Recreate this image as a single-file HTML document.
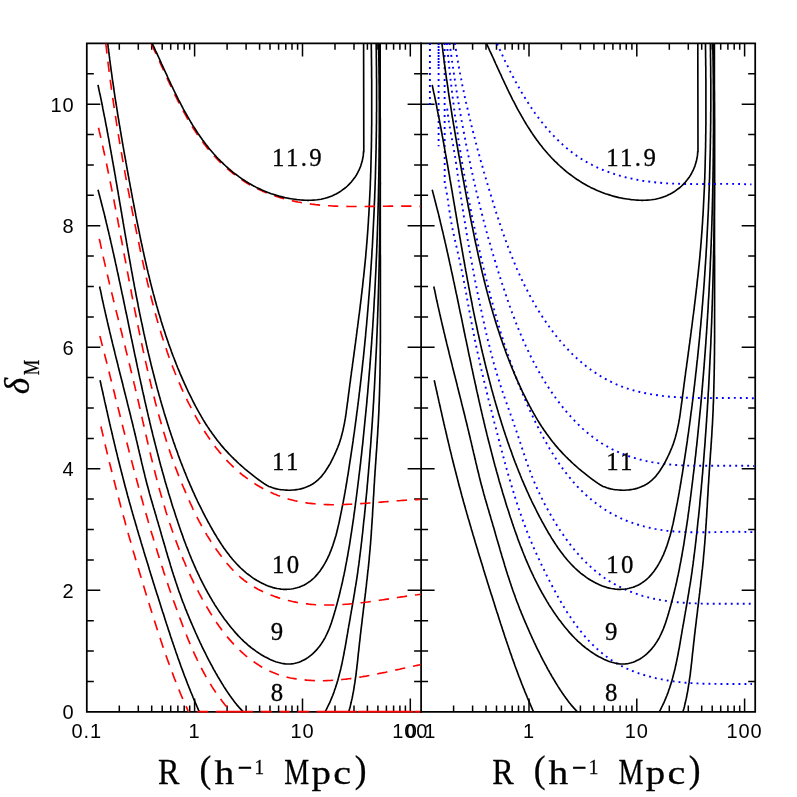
<!DOCTYPE html>
<html><head><meta charset="utf-8"><title>delta_M vs R</title>
<style>html,body{margin:0;padding:0;background:#fff}svg{display:block;will-change:transform}</style></head>
<body><svg width="797" height="797" viewBox="0 0 797 797">
<rect width="797" height="797" fill="#fff"/>
<g fill="none" stroke="#000" stroke-width="1.75" stroke-linecap="square">
<path d="M86.8 43.4H755.2V711.8H86.8Z"/>
<path d="M421.1 43.4V711.8"/>
</g>
<path d="M119.3 711.8v-6.3M119.3 43.4v6.3M138.3 711.8v-6.3M138.3 43.4v6.3M151.7 711.8v-6.3M151.7 43.4v6.3M162.2 711.8v-6.3M162.2 43.4v6.3M170.7 711.8v-6.3M170.7 43.4v6.3M177.9 711.8v-6.3M177.9 43.4v6.3M184.2 711.8v-6.3M184.2 43.4v6.3M189.7 711.8v-6.3M189.7 43.4v6.3M194.6 711.8v-13.2M194.6 43.4v13.2M227.1 711.8v-6.3M227.1 43.4v6.3M246.1 711.8v-6.3M246.1 43.4v6.3M259.6 711.8v-6.3M259.6 43.4v6.3M270.0 711.8v-6.3M270.0 43.4v6.3M278.6 711.8v-6.3M278.6 43.4v6.3M285.8 711.8v-6.3M285.8 43.4v6.3M292.0 711.8v-6.3M292.0 43.4v6.3M297.6 711.8v-6.3M297.6 43.4v6.3M302.5 711.8v-13.2M302.5 43.4v13.2M335.0 711.8v-6.3M335.0 43.4v6.3M354.0 711.8v-6.3M354.0 43.4v6.3M367.4 711.8v-6.3M367.4 43.4v6.3M377.9 711.8v-6.3M377.9 43.4v6.3M386.4 711.8v-6.3M386.4 43.4v6.3M393.6 711.8v-6.3M393.6 43.4v6.3M399.9 711.8v-6.3M399.9 43.4v6.3M405.4 711.8v-6.3M405.4 43.4v6.3M410.3 711.8v-13.2M410.3 43.4v13.2M86.8 681.4h7.0M421.1 681.4h-7.0M86.8 651.0h7.0M421.1 651.0h-7.0M86.8 620.7h7.0M421.1 620.7h-7.0M86.8 590.3h13.5M421.1 590.3h-13.5M86.8 559.9h7.0M421.1 559.9h-7.0M86.8 529.5h7.0M421.1 529.5h-7.0M86.8 499.1h7.0M421.1 499.1h-7.0M86.8 468.8h13.5M421.1 468.8h-13.5M86.8 438.4h7.0M421.1 438.4h-7.0M86.8 408.0h7.0M421.1 408.0h-7.0M86.8 377.6h7.0M421.1 377.6h-7.0M86.8 347.2h13.5M421.1 347.2h-13.5M86.8 316.9h7.0M421.1 316.9h-7.0M86.8 286.5h7.0M421.1 286.5h-7.0M86.8 256.1h7.0M421.1 256.1h-7.0M86.8 225.7h13.5M421.1 225.7h-13.5M86.8 195.3h7.0M421.1 195.3h-7.0M86.8 165.0h7.0M421.1 165.0h-7.0M86.8 134.6h7.0M421.1 134.6h-7.0M86.8 104.2h13.5M421.1 104.2h-13.5M86.8 73.8h7.0M421.1 73.8h-7.0M453.6 711.8v-6.3M453.6 43.4v6.3M472.6 711.8v-6.3M472.6 43.4v6.3M486.0 711.8v-6.3M486.0 43.4v6.3M496.5 711.8v-6.3M496.5 43.4v6.3M505.0 711.8v-6.3M505.0 43.4v6.3M512.2 711.8v-6.3M512.2 43.4v6.3M518.5 711.8v-6.3M518.5 43.4v6.3M524.0 711.8v-6.3M524.0 43.4v6.3M529.0 711.8v-13.2M529.0 43.4v13.2M561.4 711.8v-6.3M561.4 43.4v6.3M580.4 711.8v-6.3M580.4 43.4v6.3M593.9 711.8v-6.3M593.9 43.4v6.3M604.3 711.8v-6.3M604.3 43.4v6.3M612.9 711.8v-6.3M612.9 43.4v6.3M620.1 711.8v-6.3M620.1 43.4v6.3M626.3 711.8v-6.3M626.3 43.4v6.3M631.9 711.8v-6.3M631.9 43.4v6.3M636.8 711.8v-13.2M636.8 43.4v13.2M669.3 711.8v-6.3M669.3 43.4v6.3M688.3 711.8v-6.3M688.3 43.4v6.3M701.7 711.8v-6.3M701.7 43.4v6.3M712.2 711.8v-6.3M712.2 43.4v6.3M720.7 711.8v-6.3M720.7 43.4v6.3M727.9 711.8v-6.3M727.9 43.4v6.3M734.2 711.8v-6.3M734.2 43.4v6.3M739.7 711.8v-6.3M739.7 43.4v6.3M744.6 711.8v-13.2M744.6 43.4v13.2M421.1 681.4h7.0M755.2 681.4h-7.0M421.1 651.0h7.0M755.2 651.0h-7.0M421.1 620.7h7.0M755.2 620.7h-7.0M421.1 590.3h13.5M755.2 590.3h-13.5M421.1 559.9h7.0M755.2 559.9h-7.0M421.1 529.5h7.0M755.2 529.5h-7.0M421.1 499.1h7.0M755.2 499.1h-7.0M421.1 468.8h13.5M755.2 468.8h-13.5M421.1 438.4h7.0M755.2 438.4h-7.0M421.1 408.0h7.0M755.2 408.0h-7.0M421.1 377.6h7.0M755.2 377.6h-7.0M421.1 347.2h13.5M755.2 347.2h-13.5M421.1 316.9h7.0M755.2 316.9h-7.0M421.1 286.5h7.0M755.2 286.5h-7.0M421.1 256.1h7.0M755.2 256.1h-7.0M421.1 225.7h13.5M755.2 225.7h-13.5M421.1 195.3h7.0M755.2 195.3h-7.0M421.1 165.0h7.0M755.2 165.0h-7.0M421.1 134.6h7.0M755.2 134.6h-7.0M421.1 104.2h13.5M755.2 104.2h-13.5M421.1 73.8h7.0M755.2 73.8h-7.0" fill="none" stroke="#000" stroke-width="1.5"/>
<defs><clipPath id="cl"><rect x="86.8" y="43.4" width="333.7" height="669.4"/></clipPath>
<clipPath id="cr"><rect x="421.1" y="43.4" width="334.1" height="669.4"/></clipPath></defs>
<g clip-path="url(#cl)" fill="none" stroke-linejoin="round">
<path stroke="#ff0000" stroke-width="1.65" stroke-dasharray="10.3 8" d="M101.0 426.5L101.4 428.5L101.9 430.5L102.3 432.4L102.8 434.4L103.2 436.4L103.7 438.3L104.1 440.3L104.6 442.3L105.1 444.2L105.5 446.2L106.0 448.2L106.5 450.1L106.9 452.1L107.4 454.1L107.9 456.0L108.4 458.0L108.9 460.0L109.3 461.9L109.8 463.9L110.3 465.8L110.8 467.8L111.3 469.8L111.8 471.7L112.3 473.7L112.8 475.6L113.3 477.6L113.8 479.6L114.3 481.5L114.8 483.5L115.3 485.4L115.8 487.4L116.3 489.4L116.8 491.3L117.3 493.3L117.8 495.2L118.3 497.2L118.9 499.1L119.4 501.1L119.9 503.0L120.4 505.0L120.9 506.9L121.5 508.9L122.0 510.8L122.5 512.8L123.0 514.7L123.6 516.7L124.1 518.6L124.7 520.6L125.2 522.5L125.7 524.5L126.3 526.4L126.8 528.4L127.4 530.3L127.9 532.3L128.4 534.2L129.0 536.2L129.5 538.1L130.1 540.1L130.7 542.0L131.2 544.0L131.8 545.9L132.3 547.8L132.9 549.8L133.4 551.7L134.0 553.7L134.6 555.6L135.1 557.6L135.7 559.5L136.3 561.4L136.8 563.4L137.4 565.3L138.0 567.3L138.6 569.2L139.1 571.1L139.7 573.1L140.3 575.0L140.9 576.9L141.5 578.9L142.0 580.8L142.6 582.8L143.2 584.7L143.8 586.6L144.4 588.6L145.0 590.5L145.6 592.4L146.2 594.4L146.8 596.3L147.4 598.2L148.0 600.2L148.6 602.1L149.2 604.0L149.8 606.0L150.4 607.9L151.0 609.8L151.6 611.7L152.2 613.7L152.8 615.6L153.4 617.5L154.0 619.5L154.6 621.4L155.3 623.3L155.9 625.2L156.5 627.2L157.1 629.1L157.7 631.0L158.4 632.9L159.0 634.9L159.6 636.8L160.3 638.7L160.9 640.6L161.6 642.5L162.2 644.4L162.8 646.4L163.5 648.3L164.2 650.2L164.8 652.1L165.5 654.0L166.1 655.9L166.8 657.8L167.5 659.7L168.2 661.6L168.9 663.5L169.6 665.4L170.2 667.3L170.9 669.2L171.6 671.1L172.4 673.0L173.1 674.9L173.8 676.8L174.5 678.6L175.3 680.5L176.0 682.4L176.7 684.3L177.5 686.2L178.2 688.0L179.0 689.9L179.8 691.8L180.5 693.6L181.3 695.5L182.1 697.3L182.9 699.2L183.7 701.1L184.5 702.9L185.3 704.7L186.2 706.6L187.0 708.4L187.8 710.3L188.7 712.1"/>
<path stroke="#000" stroke-width="1.65" d="M100.0 380.2L100.5 382.2L100.9 384.1L101.3 386.1L101.8 388.1L102.2 390.0L102.7 392.0L103.1 394.0L103.5 395.9L104.0 397.9L104.4 399.9L104.8 401.9L105.3 403.8L105.7 405.8L106.2 407.8L106.6 409.7L107.1 411.7L107.5 413.7L107.9 415.6L108.4 417.6L108.8 419.6L109.3 421.5L109.7 423.5L110.2 425.5L110.6 427.4L111.1 429.4L111.6 431.4L112.0 433.3L112.5 435.3L112.9 437.2L113.4 439.2L113.9 441.2L114.3 443.1L114.8 445.1L115.3 447.1L115.7 449.0L116.2 451.0L116.7 452.9L117.2 454.9L117.6 456.9L118.1 458.8L118.6 460.8L119.1 462.7L119.6 464.7L120.1 466.7L120.6 468.6L121.1 470.6L121.6 472.5L122.1 474.5L122.6 476.4L123.1 478.4L123.6 480.3L124.1 482.3L124.6 484.2L125.1 486.2L125.6 488.1L126.2 490.1L126.7 492.0L127.2 494.0L127.7 495.9L128.3 497.9L128.8 499.8L129.3 501.7L129.9 503.7L130.4 505.6L131.0 507.6L131.5 509.5L132.1 511.4L132.6 513.4L133.2 515.3L133.7 517.3L134.3 519.2L134.9 521.1L135.4 523.1L136.0 525.0L136.6 526.9L137.1 528.9L137.7 530.8L138.3 532.7L138.8 534.7L139.4 536.6L140.0 538.5L140.6 540.5L141.1 542.4L141.7 544.3L142.3 546.3L142.9 548.2L143.5 550.1L144.0 552.0L144.6 554.0L145.2 555.9L145.8 557.8L146.4 559.8L147.0 561.7L147.6 563.6L148.2 565.5L148.8 567.5L149.3 569.4L149.9 571.3L150.5 573.3L151.1 575.2L151.7 577.1L152.3 579.0L152.9 581.0L153.5 582.9L154.1 584.8L154.7 586.7L155.3 588.7L155.9 590.6L156.5 592.5L157.1 594.4L157.8 596.3L158.4 598.3L159.0 600.2L159.6 602.1L160.2 604.0L160.8 606.0L161.4 607.9L162.0 609.8L162.6 611.7L163.3 613.6L163.9 615.6L164.5 617.5L165.1 619.4L165.7 621.3L166.3 623.3L167.0 625.2L167.6 627.1L168.2 629.0L168.8 630.9L169.5 632.8L170.1 634.8L170.7 636.7L171.4 638.6L172.0 640.5L172.7 642.4L173.3 644.3L174.0 646.2L174.6 648.1L175.3 650.0L175.9 652.0L176.6 653.9L177.3 655.8L177.9 657.7L178.6 659.6L179.3 661.5L180.0 663.4L180.6 665.3L181.3 667.2L182.0 669.0L182.7 670.9L183.4 672.8L184.1 674.7L184.8 676.6L185.6 678.5L186.3 680.4L187.0 682.2L187.7 684.1L188.5 686.0L189.2 687.9L190.0 689.7L190.7 691.6L191.5 693.5L192.3 695.3L193.0 697.2L193.8 699.1L194.6 700.9L195.4 702.8L196.2 704.6L197.0 706.5L197.8 708.3L198.6 710.1L199.5 712.0M348.7 712.0L349.2 710.1L349.8 708.2L350.3 706.2L350.7 704.3L351.2 702.3L351.6 700.4L352.1 698.4L352.5 696.5L352.8 694.5L353.2 692.6L353.6 690.6L353.9 688.6L354.2 686.7L354.5 684.7L354.9 682.7L355.1 680.7L355.4 678.7L355.7 676.7L356.0 674.8L356.2 672.8L356.4 670.8L356.7 668.8L356.9 666.8L357.1 664.8L357.4 662.8L357.6 660.8L357.8 658.8L358.0 656.8L358.2 654.8L358.4 652.8L358.7 650.8L358.9 648.8L359.1 646.8L359.3 644.8L359.5 642.8L359.8 640.8L360.0 638.8L360.2 636.8L360.4 634.8L360.7 632.8L360.9 630.8L361.1 628.8L361.4 626.8L361.6 624.8L361.9 622.8L362.1 620.8L362.3 618.8L362.6 616.8L362.8 614.8L363.1 612.8L363.3 610.8L363.5 608.8L363.8 606.8L364.0 604.9L364.3 602.9L364.5 600.9L364.7 598.9L365.0 596.9L365.2 594.9L365.5 592.9L365.7 590.9L365.9 588.9L366.2 586.9L366.4 584.9L366.6 582.9L366.8 580.9L367.1 578.9L367.3 576.9L367.5 574.9L367.7 572.9L367.9 570.9L368.2 568.9L368.4 566.9L368.6 564.9L368.8 562.9L369.0 561.0L369.2 559.0L369.3 557.0L369.5 555.0L369.7 553.0L369.9 551.0L370.1 549.0L370.2 547.0L370.4 545.0L370.6 543.0L370.7 541.0L370.9 539.0L371.0 537.0L371.2 534.9L371.3 532.9L371.4 530.9L371.6 528.9L371.7 526.9L371.8 524.9L372.0 522.9L372.1 520.9L372.2 518.9L372.4 516.9L372.5 514.9L372.6 512.9L372.7 510.9L372.8 508.9L373.0 506.9L373.1 504.9L373.2 502.9L373.3 500.9L373.4 498.9L373.5 496.9L373.7 494.8L373.8 492.8L373.9 490.8L374.0 488.8L374.1 486.8L374.2 484.8L374.4 482.8L374.5 480.8L374.6 478.8L374.7 476.8L374.9 474.8L375.0 472.8L375.1 470.8L375.3 468.8L375.4 466.8L375.5 464.8L375.7 462.8L375.8 460.8L376.0 458.7L376.1 456.7L376.2 454.7L376.4 452.7L376.5 450.7L376.7 448.7L376.8 446.7L376.9 444.7L377.1 442.7L377.2 440.7L377.3 438.7L377.5 436.7L377.6 434.7L377.7 432.7L377.8 430.7L377.9 428.7L378.1 426.7L378.2 424.7L378.3 422.7L378.4 420.7L378.5 418.6L378.6 416.6L378.7 414.6L378.8 412.6L378.9 410.6L379.0 408.6L379.0 406.6L379.1 404.6L379.2 402.6L379.3 400.6L379.3 398.6L379.4 396.6L379.5 394.6L379.5 392.6L379.6 390.6L379.6 388.5L379.7 386.5L379.7 384.5L379.8 382.5L379.8 380.5L379.9 378.5L379.9 376.5L380.0 374.5L380.0 372.5L380.0 370.5L380.1 368.5L380.1 366.5L380.1 364.5L380.2 362.4L380.2 360.4L380.2 358.4L380.2 356.4L380.3 354.4L380.3 352.4L380.3 350.4L380.3 348.4L380.3 346.4L380.3 344.4L380.4 342.4L380.4 340.3L380.4 338.3L380.4 336.3L380.4 334.3L380.4 332.3L380.4 330.3L380.4 328.3L380.4 326.3L380.4 324.3L380.4 322.3L380.4 320.3L380.4 318.2L380.4 316.2L380.4 314.2L380.4 312.2L380.4 310.2L380.4 308.2L380.4 306.2L380.4 304.2L380.4 302.2L380.4 300.2L380.4 298.1L380.4 296.1L380.4 294.1L380.4 292.1L380.4 290.1L380.4 288.1L380.4 286.1L380.4 284.1L380.4 282.1L380.4 280.1L380.4 278.1L380.4 276.0L380.4 274.0L380.4 272.0L380.4 270.0L380.4 268.0L380.4 266.0L380.4 264.0L380.4 262.0L380.4 260.0L380.4 258.0L380.4 256.0L380.3 253.9L380.3 251.9L380.3 249.9L380.3 247.9L380.3 245.9L380.3 243.9L380.3 241.9L380.3 239.9L380.3 237.9L380.3 235.9L380.3 233.9L380.3 231.8L380.3 229.8L380.3 227.8L380.3 225.8L380.3 223.8L380.3 221.8L380.3 219.8L380.3 217.8L380.3 215.8L380.3 213.8L380.3 211.8L380.3 209.7L380.3 207.7L380.3 205.7L380.3 203.7L380.3 201.7L380.3 199.7L380.3 197.7L380.3 195.7L380.3 193.7L380.3 191.7L380.3 189.7L380.3 187.7L380.3 185.6L380.3 183.6L380.2 181.6L380.2 179.6L380.2 177.6L380.2 175.6L380.2 173.6L380.2 171.6L380.2 169.6L380.2 167.6L380.2 165.6L380.2 163.5L380.2 161.5L380.2 159.5L380.2 157.5L380.2 155.5L380.2 153.5L380.2 151.5L380.2 149.5L380.2 147.5L380.2 145.5L380.2 143.5L380.2 141.4L380.2 139.4L380.2 137.4L380.2 135.4L380.2 133.4L380.2 131.4L380.2 129.4L380.2 127.4L380.2 125.4L380.2 123.4L380.2 121.4L380.2 119.3L380.2 117.3L380.2 115.3L380.2 113.3L380.2 111.3L380.2 109.3L380.2 107.3L380.2 105.3L380.2 103.3L380.2 101.3L380.2 99.3L380.2 97.2L380.2 95.2L380.2 93.2L380.2 91.2L380.2 89.2L380.2 87.2L380.2 85.2L380.2 83.2L380.2 81.2L380.2 79.2L380.2 77.2L380.2 75.1L380.2 73.1L380.2 71.1L380.2 69.1L380.2 67.1L380.2 65.1L380.2 63.1L380.2 61.1L380.2 59.1L380.2 57.1L380.2 55.1L380.2 53.0L380.2 51.0L380.2 49.0L380.2 47.0L380.2 45.0L380.2 43.0"/>
<path stroke="#ff0000" stroke-width="1.65" stroke-dasharray="10.3 8" d="M99.9 336.0L100.4 338.0L100.9 339.9L101.4 341.9L101.9 343.9L102.4 345.8L102.9 347.8L103.4 349.7L103.9 351.7L104.4 353.6L104.9 355.6L105.4 357.5L105.9 359.5L106.4 361.4L106.9 363.4L107.4 365.3L107.9 367.3L108.4 369.2L108.9 371.2L109.4 373.2L109.8 375.1L110.3 377.1L110.8 379.0L111.3 381.0L111.8 382.9L112.3 384.9L112.8 386.8L113.3 388.8L113.8 390.8L114.3 392.7L114.8 394.7L115.2 396.6L115.7 398.6L116.2 400.5L116.7 402.5L117.2 404.4L117.7 406.4L118.2 408.4L118.7 410.3L119.2 412.3L119.7 414.2L120.2 416.2L120.7 418.1L121.1 420.1L121.6 422.0L122.1 424.0L122.6 426.0L123.1 427.9L123.6 429.9L124.1 431.8L124.6 433.8L125.1 435.7L125.6 437.7L126.1 439.6L126.6 441.6L127.1 443.5L127.6 445.5L128.1 447.4L128.6 449.4L129.1 451.4L129.6 453.3L130.1 455.3L130.7 457.2L131.2 459.2L131.7 461.1L132.2 463.1L132.7 465.0L133.2 467.0L133.7 468.9L134.2 470.9L134.8 472.8L135.3 474.8L135.8 476.7L136.3 478.6L136.8 480.6L137.4 482.5L137.9 484.5L138.4 486.4L139.0 488.4L139.5 490.3L140.0 492.3L140.5 494.2L141.1 496.2L141.6 498.1L142.2 500.0L142.7 502.0L143.2 503.9L143.8 505.9L144.3 507.8L144.9 509.7L145.4 511.7L146.0 513.6L146.5 515.6L147.1 517.5L147.7 519.4L148.2 521.4L148.8 523.3L149.3 525.2L149.9 527.2L150.5 529.1L151.0 531.0L151.6 533.0L152.2 534.9L152.8 536.8L153.4 538.8L153.9 540.7L154.5 542.6L155.1 544.6L155.7 546.5L156.3 548.4L156.9 550.3L157.5 552.3L158.1 554.2L158.7 556.1L159.3 558.0L159.9 560.0L160.5 561.9L161.1 563.8L161.7 565.7L162.4 567.6L163.0 569.5L163.6 571.5L164.2 573.4L164.9 575.3L165.5 577.2L166.1 579.1L166.8 581.0L167.4 582.9L168.1 584.9L168.7 586.8L169.4 588.7L170.0 590.6L170.7 592.5L171.3 594.4L172.0 596.3L172.7 598.2L173.3 600.1L174.0 602.0L174.7 603.9L175.4 605.8L176.1 607.7L176.8 609.6L177.4 611.5L178.1 613.4L178.8 615.3L179.5 617.2L180.3 619.1L181.0 621.0L181.7 622.9L182.4 624.7L183.1 626.6L183.9 628.5L184.6 630.4L185.3 632.3L186.1 634.1L186.8 636.0L187.6 637.9L188.3 639.8L189.1 641.6L189.9 643.5L190.7 645.3L191.5 647.2L192.3 649.0L193.1 650.9L193.9 652.7L194.8 654.6L195.6 656.4L196.5 658.2L197.3 660.0L198.2 661.8L199.1 663.6L200.0 665.4L200.9 667.2L201.8 669.0L202.8 670.8L203.7 672.5L204.7 674.3L205.7 676.1L206.6 677.8L207.6 679.5L208.7 681.3L209.7 683.0L210.8 684.7L211.8 686.4L212.9 688.1L214.0 689.8L215.1 691.4L216.3 693.1L217.4 694.8L218.6 696.4L219.8 698.0L221.0 699.6L222.2 701.3L223.4 702.8L224.7 704.4L226.0 706.0L227.3 707.6L228.6 709.1L229.9 710.7L231.3 712.2"/>
<path stroke="#000" stroke-width="1.65" d="M99.6 286.5L100.0 288.5L100.5 290.4L100.9 292.4L101.3 294.4L101.7 296.3L102.1 298.3L102.5 300.3L103.0 302.3L103.4 304.2L103.8 306.2L104.3 308.1L104.7 310.1L105.2 312.1L105.6 314.0L106.1 316.0L106.5 318.0L107.0 319.9L107.4 321.9L107.9 323.8L108.3 325.8L108.8 327.8L109.3 329.7L109.7 331.7L110.2 333.6L110.7 335.6L111.1 337.6L111.6 339.5L112.1 341.5L112.5 343.4L113.0 345.4L113.5 347.3L114.0 349.3L114.5 351.2L114.9 353.2L115.4 355.1L115.9 357.1L116.4 359.1L116.9 361.0L117.4 363.0L117.9 364.9L118.3 366.9L118.8 368.8L119.3 370.8L119.8 372.7L120.3 374.7L120.8 376.6L121.3 378.6L121.8 380.5L122.3 382.5L122.8 384.4L123.2 386.4L123.7 388.3L124.2 390.3L124.7 392.2L125.2 394.2L125.7 396.1L126.2 398.1L126.7 400.1L127.2 402.0L127.6 404.0L128.1 405.9L128.6 407.9L129.1 409.8L129.6 411.8L130.1 413.7L130.6 415.7L131.0 417.6L131.5 419.6L132.0 421.5L132.5 423.5L133.0 425.5L133.4 427.4L133.9 429.4L134.4 431.3L134.8 433.3L135.3 435.2L135.8 437.2L136.2 439.2L136.7 441.1L137.2 443.1L137.6 445.0L138.1 447.0L138.5 449.0L139.0 450.9L139.4 452.9L139.9 454.8L140.4 456.8L140.8 458.8L141.3 460.7L141.7 462.7L142.2 464.6L142.7 466.6L143.1 468.6L143.6 470.5L144.1 472.5L144.6 474.4L145.0 476.4L145.5 478.3L146.0 480.3L146.5 482.2L147.0 484.2L147.5 486.1L148.1 488.1L148.6 490.0L149.1 491.9L149.6 493.9L150.2 495.8L150.7 497.8L151.3 499.7L151.8 501.6L152.4 503.5L153.0 505.5L153.5 507.4L154.1 509.3L154.7 511.3L155.2 513.2L155.8 515.1L156.4 517.1L156.9 519.0L157.5 520.9L158.1 522.8L158.6 524.8L159.2 526.7L159.8 528.6L160.3 530.6L160.9 532.5L161.4 534.5L162.0 536.4L162.5 538.3L163.1 540.3L163.7 542.2L164.2 544.1L164.8 546.1L165.4 548.0L165.9 549.9L166.5 551.9L167.1 553.8L167.6 555.7L168.2 557.7L168.8 559.6L169.4 561.5L170.0 563.5L170.5 565.4L171.1 567.3L171.7 569.2L172.3 571.2L172.9 573.1L173.5 575.0L174.2 576.9L174.8 578.8L175.4 580.7L176.0 582.6L176.7 584.6L177.3 586.5L178.0 588.4L178.6 590.3L179.3 592.2L180.0 594.0L180.7 595.9L181.3 597.8L182.0 599.7L182.7 601.6L183.5 603.5L184.2 605.3L184.9 607.2L185.6 609.1L186.4 610.9L187.1 612.8L187.9 614.6L188.7 616.5L189.4 618.4L190.2 620.2L191.0 622.1L191.8 623.9L192.6 625.8L193.4 627.6L194.2 629.4L195.0 631.3L195.8 633.1L196.7 635.0L197.5 636.8L198.3 638.6L199.2 640.5L200.0 642.3L200.9 644.1L201.7 645.9L202.6 647.8L203.5 649.6L204.4 651.4L205.3 653.2L206.2 655.0L207.1 656.8L208.0 658.6L208.9 660.4L209.9 662.2L210.8 664.0L211.8 665.7L212.7 667.5L213.7 669.3L214.7 671.0L215.7 672.8L216.7 674.5L217.7 676.3L218.7 678.0L219.7 679.7L220.8 681.5L221.8 683.2L222.9 684.9L223.9 686.6L225.0 688.3L226.1 690.0L227.2 691.6L228.3 693.3L229.5 695.0L230.6 696.6L231.8 698.2L233.0 699.8L234.2 701.4L235.4 703.0L236.7 704.6L238.0 706.1L239.3 707.6L240.7 709.1L242.1 710.6L243.5 712.0M325.0 711.9L326.0 710.1L326.9 708.3L327.8 706.5L328.7 704.7L329.6 702.9L330.4 701.0L331.2 699.2L331.9 697.3L332.7 695.5L333.4 693.6L334.1 691.7L334.7 689.8L335.4 688.0L336.0 686.1L336.6 684.2L337.2 682.2L337.8 680.3L338.3 678.4L338.8 676.5L339.3 674.5L339.8 672.6L340.3 670.7L340.8 668.7L341.2 666.8L341.7 664.8L342.1 662.8L342.5 660.9L342.9 658.9L343.3 656.9L343.7 655.0L344.1 653.0L344.4 651.0L344.8 649.0L345.2 647.1L345.5 645.1L345.9 643.1L346.2 641.1L346.5 639.1L346.9 637.1L347.2 635.2L347.6 633.2L347.9 631.2L348.2 629.2L348.6 627.2L348.9 625.2L349.3 623.3L349.6 621.3L350.0 619.3L350.3 617.3L350.6 615.4L351.0 613.4L351.3 611.4L351.7 609.4L352.0 607.5L352.4 605.5L352.7 603.5L353.0 601.5L353.4 599.6L353.7 597.6L354.0 595.6L354.4 593.6L354.7 591.7L355.0 589.7L355.3 587.7L355.7 585.7L356.0 583.7L356.3 581.8L356.6 579.8L356.9 577.8L357.2 575.8L357.5 573.8L357.8 571.9L358.0 569.9L358.3 567.9L358.6 565.9L358.9 563.9L359.1 561.9L359.4 559.9L359.6 557.9L359.9 556.0L360.1 554.0L360.4 552.0L360.6 550.0L360.9 548.0L361.1 546.0L361.3 544.0L361.6 542.0L361.8 540.0L362.0 538.0L362.2 536.0L362.5 534.0L362.7 532.0L362.9 530.0L363.1 528.0L363.3 526.0L363.5 524.0L363.7 522.0L363.9 520.1L364.2 518.1L364.4 516.1L364.6 514.1L364.8 512.1L365.0 510.1L365.2 508.1L365.4 506.1L365.6 504.1L365.7 502.1L365.9 500.1L366.1 498.1L366.3 496.1L366.5 494.1L366.7 492.1L366.9 490.1L367.1 488.1L367.2 486.1L367.4 484.1L367.6 482.1L367.8 480.1L367.9 478.1L368.1 476.1L368.3 474.1L368.5 472.1L368.6 470.1L368.8 468.1L369.0 466.1L369.1 464.1L369.3 462.1L369.5 460.1L369.6 458.1L369.8 456.1L369.9 454.1L370.1 452.1L370.2 450.1L370.4 448.1L370.6 446.1L370.7 444.1L370.9 442.1L371.0 440.1L371.1 438.1L371.3 436.1L371.4 434.1L371.6 432.1L371.7 430.1L371.9 428.1L372.0 426.1L372.1 424.1L372.3 422.1L372.4 420.1L372.5 418.1L372.7 416.1L372.8 414.1L372.9 412.1L373.1 410.1L373.2 408.1L373.3 406.1L373.4 404.1L373.6 402.1L373.7 400.1L373.8 398.0L373.9 396.0L374.0 394.0L374.1 392.0L374.3 390.0L374.4 388.0L374.5 386.0L374.6 384.0L374.7 382.0L374.8 380.0L374.9 378.0L375.0 376.0L375.1 374.0L375.2 372.0L375.3 370.0L375.4 368.0L375.5 366.0L375.6 364.0L375.7 362.0L375.8 360.0L375.9 358.0L376.0 356.0L376.1 354.0L376.2 352.0L376.3 350.0L376.4 348.0L376.5 346.0L376.6 344.0L376.7 341.9L376.7 339.9L376.8 337.9L376.9 335.9L377.0 333.9L377.1 331.9L377.1 329.9L377.2 327.9L377.3 325.9L377.4 323.9L377.5 321.9L377.5 319.9L377.6 317.9L377.7 315.9L377.7 313.9L377.8 311.9L377.9 309.9L377.9 307.9L378.0 305.9L378.1 303.9L378.1 301.9L378.2 299.8L378.3 297.8L378.3 295.8L378.4 293.8L378.4 291.8L378.5 289.8L378.6 287.8L378.6 285.8L378.7 283.8L378.7 281.8L378.8 279.8L378.8 277.8L378.9 275.8L378.9 273.8L379.0 271.8L379.0 269.8L379.1 267.8L379.1 265.7L379.2 263.7L379.2 261.7L379.3 259.7L379.3 257.7L379.3 255.7L379.4 253.7L379.4 251.7L379.5 249.7L379.5 247.7L379.5 245.7L379.6 243.7L379.6 241.7L379.6 239.7L379.7 237.7L379.7 235.7L379.7 233.6L379.8 231.6L379.8 229.6L379.8 227.6L379.9 225.6L379.9 223.6L379.9 221.6L379.9 219.6L380.0 217.6L380.0 215.6L380.0 213.6L380.0 211.6L380.1 209.6L380.1 207.6L380.1 205.6L380.1 203.5L380.1 201.5L380.1 199.5L380.2 197.5L380.2 195.5L380.2 193.5L380.2 191.5L380.2 189.5L380.2 187.5L380.2 185.5L380.3 183.5L380.3 181.5L380.3 179.5L380.3 177.5L380.3 175.4L380.3 173.4L380.3 171.4L380.3 169.4L380.3 167.4L380.3 165.4L380.3 163.4L380.3 161.4L380.3 159.4L380.3 157.4L380.3 155.4L380.3 153.4L380.3 151.4L380.3 149.4L380.3 147.3L380.3 145.3L380.3 143.3L380.3 141.3L380.3 139.3L380.3 137.3L380.3 135.3L380.3 133.3L380.3 131.3L380.3 129.3L380.3 127.3L380.3 125.3L380.3 123.3L380.3 121.3L380.3 119.2L380.2 117.2L380.2 115.2L380.2 113.2L380.2 111.2L380.2 109.2L380.2 107.2L380.2 105.2L380.2 103.2L380.1 101.2L380.1 99.2L380.1 97.2L380.1 95.2L380.1 93.2L380.1 91.2L380.0 89.1L380.0 87.1L380.0 85.1L380.0 83.1L380.0 81.1L379.9 79.1L379.9 77.1L379.9 75.1L379.9 73.1L379.9 71.1L379.8 69.1L379.8 67.1L379.8 65.1L379.8 63.1L379.7 61.1L379.7 59.0L379.7 57.0L379.7 55.0L379.6 53.0L379.6 51.0L379.6 49.0L379.6 47.0L379.5 45.0L379.5 43.0"/>
<path stroke="#ff0000" stroke-width="1.65" stroke-dasharray="10.3 8" d="M99.3 238.8L99.7 240.8L100.2 242.7L100.6 244.7L101.0 246.7L101.4 248.6L101.9 250.6L102.3 252.6L102.7 254.5L103.2 256.5L103.6 258.5L104.1 260.4L104.5 262.4L105.0 264.3L105.4 266.3L105.9 268.3L106.3 270.2L106.8 272.2L107.2 274.1L107.7 276.1L108.2 278.0L108.6 280.0L109.1 281.9L109.5 283.9L110.0 285.8L110.5 287.8L111.0 289.7L111.4 291.7L111.9 293.6L112.4 295.6L112.9 297.5L113.3 299.5L113.8 301.4L114.3 303.4L114.8 305.3L115.3 307.3L115.7 309.2L116.2 311.2L116.7 313.1L117.2 315.0L117.7 317.0L118.2 318.9L118.6 320.9L119.1 322.8L119.6 324.8L120.1 326.7L120.6 328.7L121.1 330.6L121.6 332.5L122.1 334.5L122.5 336.4L123.0 338.4L123.5 340.3L124.0 342.3L124.5 344.2L125.0 346.2L125.5 348.1L125.9 350.0L126.4 352.0L126.9 353.9L127.4 355.9L127.9 357.8L128.4 359.8L128.8 361.7L129.3 363.7L129.8 365.6L130.3 367.6L130.7 369.5L131.2 371.5L131.7 373.4L132.2 375.4L132.6 377.3L133.1 379.3L133.6 381.2L134.0 383.2L134.5 385.1L135.0 387.1L135.4 389.0L135.9 391.0L136.3 393.0L136.8 394.9L137.3 396.9L137.7 398.8L138.2 400.8L138.6 402.8L139.1 404.7L139.5 406.7L140.0 408.6L140.4 410.6L140.9 412.6L141.3 414.5L141.7 416.5L142.2 418.4L142.6 420.4L143.1 422.4L143.5 424.3L144.0 426.3L144.4 428.3L144.9 430.2L145.3 432.2L145.8 434.1L146.2 436.1L146.7 438.1L147.1 440.0L147.6 442.0L148.0 443.9L148.5 445.9L149.0 447.9L149.4 449.8L149.9 451.8L150.4 453.7L150.8 455.7L151.3 457.6L151.8 459.6L152.3 461.5L152.7 463.5L153.2 465.4L153.7 467.4L154.2 469.3L154.7 471.3L155.2 473.2L155.7 475.2L156.2 477.1L156.7 479.1L157.2 481.0L157.7 482.9L158.2 484.9L158.8 486.8L159.3 488.7L159.8 490.7L160.4 492.6L160.9 494.5L161.5 496.5L162.0 498.4L162.6 500.3L163.1 502.2L163.7 504.2L164.3 506.1L164.9 508.0L165.5 509.9L166.0 511.8L166.6 513.7L167.3 515.6L167.9 517.5L168.5 519.4L169.1 521.3L169.7 523.2L170.4 525.1L171.0 527.0L171.7 528.9L172.3 530.8L173.0 532.7L173.6 534.6L174.3 536.5L175.0 538.3L175.7 540.2L176.4 542.1L177.1 544.0L177.8 545.8L178.5 547.7L179.2 549.6L180.0 551.4L180.7 553.3L181.5 555.1L182.2 557.0L183.0 558.8L183.8 560.7L184.6 562.5L185.3 564.3L186.1 566.2L187.0 568.0L187.8 569.8L188.6 571.7L189.4 573.5L190.3 575.3L191.1 577.1L192.0 578.9L192.9 580.8L193.7 582.6L194.6 584.4L195.5 586.2L196.4 588.0L197.4 589.8L198.3 591.5L199.2 593.3L200.2 595.1L201.1 596.9L202.1 598.7L203.1 600.4L204.1 602.2L205.0 604.0L206.1 605.7L207.1 607.5L208.1 609.2L209.2 611.0L210.2 612.7L211.3 614.4L212.4 616.1L213.5 617.8L214.6 619.5L215.7 621.2L216.8 622.9L218.0 624.5L219.1 626.2L220.3 627.8L221.5 629.5L222.7 631.1L223.9 632.7L225.2 634.2L226.4 635.8L227.7 637.4L229.0 638.9L230.3 640.4L231.6 641.9L233.0 643.4L234.3 644.8L235.7 646.3L237.1 647.7L238.5 649.1L240.0 650.5L241.4 651.8L242.9 653.2L244.4 654.5L245.9 655.8L247.4 657.0L249.0 658.3L250.6 659.5L252.2 660.6L253.8 661.8L255.4 662.9L257.1 664.0L258.8 665.1L260.5 666.2L262.2 667.2L264.0 668.2L265.8 669.1L267.6 670.0L269.4 670.9L271.2 671.8L273.1 672.6L274.9 673.3L276.8 674.1L278.7 674.8L280.6 675.4L282.5 676.0L284.5 676.6L286.4 677.1L288.4 677.5L290.4 678.0L292.3 678.3L294.3 678.6L296.3 678.9L298.3 679.2L300.3 679.5L302.2 679.7L304.2 679.9L306.2 680.1L308.2 680.3L310.2 680.4L312.2 680.5L314.2 680.6L316.2 680.7L318.2 680.7L320.3 680.7L322.3 680.7L324.3 680.7L326.3 680.6L328.3 680.5L330.3 680.5L332.3 680.3L334.3 680.2L336.3 680.1L338.2 679.9L340.2 679.7L342.2 679.5L344.2 679.3L346.2 679.1L348.2 678.8L350.2 678.6L352.2 678.3L354.2 678.0L356.2 677.7L358.1 677.4L360.1 677.1L362.1 676.8L364.1 676.4L366.1 676.1L368.0 675.7L370.0 675.4L372.0 675.0L374.0 674.6L376.0 674.2L377.9 673.8L379.9 673.4L381.9 673.0L383.8 672.6L385.8 672.2L387.8 671.7L389.7 671.3L391.7 670.9L393.7 670.5L395.6 670.0L397.6 669.6L399.6 669.2L401.5 668.7L403.5 668.3L405.5 667.9L407.4 667.5L409.4 667.0L411.3 666.6L413.3 666.2L415.2 665.8L417.2 665.4L419.1 665.0L421.1 664.6"/>
<path stroke="#000" stroke-width="1.65" d="M98.0 189.7L98.5 191.6L99.0 193.6L99.5 195.5L100.0 197.4L100.5 199.4L101.0 201.3L101.5 203.2L102.0 205.2L102.5 207.1L103.0 209.1L103.5 211.0L104.0 212.9L104.5 214.9L104.9 216.8L105.4 218.8L105.9 220.7L106.3 222.7L106.8 224.6L107.3 226.6L107.7 228.5L108.2 230.5L108.7 232.4L109.1 234.4L109.6 236.3L110.0 238.3L110.5 240.2L110.9 242.2L111.4 244.1L111.8 246.1L112.3 248.1L112.7 250.0L113.1 252.0L113.6 253.9L114.0 255.9L114.4 257.8L114.9 259.8L115.3 261.8L115.7 263.7L116.2 265.7L116.6 267.6L117.0 269.6L117.4 271.6L117.9 273.5L118.3 275.5L118.7 277.4L119.1 279.4L119.5 281.4L120.0 283.3L120.4 285.3L120.8 287.3L121.2 289.2L121.6 291.2L122.0 293.2L122.5 295.1L122.9 297.1L123.3 299.0L123.7 301.0L124.1 303.0L124.5 304.9L124.9 306.9L125.3 308.9L125.7 310.8L126.1 312.8L126.6 314.8L127.0 316.7L127.4 318.7L127.8 320.7L128.2 322.6L128.6 324.6L129.0 326.6L129.4 328.5L129.8 330.5L130.2 332.5L130.6 334.4L131.0 336.4L131.4 338.4L131.9 340.3L132.3 342.3L132.7 344.3L133.1 346.2L133.5 348.2L133.9 350.2L134.3 352.1L134.7 354.1L135.1 356.1L135.6 358.0L136.0 360.0L136.4 362.0L136.8 363.9L137.2 365.9L137.6 367.9L138.1 369.8L138.5 371.8L138.9 373.8L139.3 375.7L139.7 377.7L140.2 379.6L140.6 381.6L141.0 383.6L141.5 385.5L141.9 387.5L142.3 389.5L142.7 391.4L143.2 393.4L143.6 395.3L144.1 397.3L144.5 399.3L144.9 401.2L145.4 403.2L145.8 405.1L146.3 407.1L146.7 409.0L147.2 411.0L147.6 412.9L148.1 414.9L148.5 416.9L149.0 418.8L149.5 420.8L149.9 422.7L150.4 424.7L150.8 426.6L151.3 428.6L151.8 430.5L152.3 432.5L152.7 434.4L153.2 436.4L153.7 438.3L154.2 440.3L154.7 442.2L155.2 444.1L155.7 446.1L156.2 448.0L156.7 450.0L157.2 451.9L157.7 453.9L158.2 455.8L158.7 457.7L159.2 459.7L159.7 461.6L160.2 463.5L160.7 465.5L161.3 467.4L161.8 469.3L162.3 471.3L162.9 473.2L163.4 475.1L164.0 477.1L164.5 479.0L165.0 480.9L165.6 482.9L166.2 484.8L166.7 486.7L167.3 488.6L167.9 490.5L168.4 492.5L169.0 494.4L169.6 496.3L170.2 498.2L170.8 500.1L171.3 502.1L171.9 504.0L172.5 505.9L173.1 507.8L173.8 509.7L174.4 511.6L175.0 513.5L175.6 515.4L176.2 517.3L176.9 519.2L177.5 521.1L178.1 523.0L178.8 524.9L179.4 526.8L180.1 528.7L180.7 530.6L181.4 532.5L182.1 534.4L182.8 536.3L183.4 538.2L184.1 540.1L184.8 542.0L185.5 543.8L186.2 545.7L187.0 547.6L187.7 549.4L188.4 551.3L189.2 553.2L189.9 555.0L190.7 556.9L191.4 558.7L192.2 560.6L193.0 562.4L193.8 564.3L194.6 566.1L195.4 567.9L196.2 569.8L197.1 571.6L197.9 573.4L198.8 575.2L199.6 577.0L200.5 578.8L201.4 580.6L202.3 582.4L203.2 584.2L204.1 585.9L205.0 587.7L206.0 589.5L206.9 591.2L207.9 593.0L208.9 594.7L209.9 596.5L210.9 598.2L211.9 599.9L212.9 601.6L214.0 603.3L215.0 605.1L216.1 606.7L217.2 608.4L218.3 610.1L219.4 611.8L220.6 613.5L221.7 615.1L222.9 616.8L224.0 618.4L225.2 620.0L226.5 621.6L227.7 623.3L228.9 624.8L230.2 626.4L231.5 628.0L232.8 629.5L234.1 631.1L235.4 632.6L236.8 634.1L238.1 635.6L239.5 637.0L240.9 638.5L242.4 639.9L243.8 641.3L245.3 642.6L246.8 643.9L248.3 645.3L249.8 646.5L251.4 647.8L253.0 649.0L254.6 650.2L256.2 651.4L257.9 652.5L259.6 653.6L261.3 654.7L263.0 655.7L264.7 656.7L266.5 657.6L268.3 658.5L270.1 659.4L272.0 660.2L273.8 661.0L275.7 661.7L277.6 662.3L279.6 662.8L281.5 663.3L283.4 663.6L285.4 663.9L287.3 664.0L289.3 664.0L291.2 663.9L293.2 663.7L295.1 663.3L297.0 662.8L298.9 662.2L300.8 661.5L302.6 660.6L304.4 659.7L306.1 658.7L307.8 657.6L309.5 656.4L311.1 655.1L312.6 653.8L314.1 652.4L315.6 650.9L317.0 649.4L318.3 647.8L319.6 646.2L320.8 644.6L321.9 642.9L323.0 641.2L324.0 639.5L325.0 637.8L325.9 636.0L326.8 634.2L327.6 632.4L328.4 630.6L329.2 628.7L329.9 626.9L330.6 625.0L331.3 623.1L331.9 621.2L332.5 619.3L333.1 617.4L333.7 615.5L334.3 613.6L334.8 611.6L335.4 609.7L335.9 607.8L336.5 605.8L337.0 603.9L337.5 602.0L338.0 600.0L338.5 598.1L339.0 596.2L339.5 594.2L340.0 592.3L340.4 590.3L340.9 588.4L341.4 586.4L341.8 584.5L342.3 582.5L342.7 580.6L343.1 578.6L343.5 576.7L344.0 574.7L344.4 572.7L344.8 570.8L345.2 568.8L345.5 566.8L345.9 564.9L346.3 562.9L346.7 560.9L347.0 559.0L347.4 557.0L347.8 555.0L348.1 553.0L348.4 551.1L348.8 549.1L349.1 547.1L349.5 545.1L349.8 543.2L350.1 541.2L350.4 539.2L350.7 537.2L351.0 535.2L351.3 533.3L351.6 531.3L351.9 529.3L352.2 527.3L352.5 525.3L352.8 523.3L353.1 521.3L353.4 519.3L353.7 517.4L353.9 515.4L354.2 513.4L354.5 511.4L354.8 509.4L355.0 507.4L355.3 505.4L355.5 503.4L355.8 501.4L356.1 499.4L356.3 497.5L356.6 495.5L356.8 493.5L357.1 491.5L357.3 489.5L357.6 487.5L357.8 485.5L358.1 483.5L358.3 481.5L358.6 479.5L358.8 477.5L359.0 475.5L359.3 473.5L359.5 471.6L359.8 469.6L360.0 467.6L360.2 465.6L360.5 463.6L360.7 461.6L360.9 459.6L361.1 457.6L361.4 455.6L361.6 453.6L361.8 451.6L362.0 449.6L362.2 447.6L362.5 445.6L362.7 443.6L362.9 441.6L363.1 439.6L363.3 437.6L363.5 435.7L363.7 433.7L363.9 431.7L364.1 429.7L364.3 427.7L364.5 425.7L364.7 423.7L364.9 421.7L365.1 419.7L365.3 417.7L365.5 415.7L365.7 413.7L365.9 411.7L366.1 409.7L366.3 407.7L366.5 405.7L366.7 403.7L366.9 401.7L367.0 399.7L367.2 397.7L367.4 395.7L367.6 393.7L367.8 391.7L367.9 389.7L368.1 387.7L368.3 385.7L368.4 383.7L368.6 381.7L368.8 379.7L368.9 377.7L369.1 375.7L369.3 373.7L369.4 371.7L369.6 369.7L369.8 367.7L369.9 365.7L370.1 363.7L370.2 361.7L370.4 359.7L370.5 357.7L370.7 355.7L370.8 353.7L371.0 351.7L371.1 349.7L371.3 347.7L371.4 345.7L371.6 343.7L371.7 341.7L371.8 339.7L372.0 337.7L372.1 335.7L372.3 333.7L372.4 331.7L372.5 329.7L372.7 327.7L372.8 325.7L372.9 323.7L373.0 321.7L373.2 319.7L373.3 317.7L373.4 315.7L373.5 313.7L373.7 311.7L373.8 309.7L373.9 307.7L374.0 305.7L374.1 303.7L374.2 301.7L374.3 299.7L374.5 297.7L374.6 295.7L374.7 293.7L374.8 291.7L374.9 289.7L375.0 287.7L375.1 285.7L375.2 283.7L375.3 281.7L375.4 279.7L375.5 277.7L375.6 275.7L375.7 273.7L375.8 271.7L375.9 269.7L376.0 267.6L376.1 265.6L376.1 263.6L376.2 261.6L376.3 259.6L376.4 257.6L376.5 255.6L376.6 253.6L376.7 251.6L376.7 249.6L376.8 247.6L376.9 245.6L377.0 243.6L377.0 241.6L377.1 239.6L377.2 237.6L377.3 235.6L377.3 233.6L377.4 231.6L377.5 229.6L377.5 227.6L377.6 225.6L377.7 223.6L377.7 221.5L377.8 219.5L377.8 217.5L377.9 215.5L378.0 213.5L378.0 211.5L378.1 209.5L378.1 207.5L378.2 205.5L378.2 203.5L378.3 201.5L378.3 199.5L378.4 197.5L378.4 195.5L378.5 193.5L378.5 191.5L378.5 189.5L378.6 187.5L378.6 185.5L378.7 183.4L378.7 181.4L378.7 179.4L378.8 177.4L378.8 175.4L378.8 173.4L378.9 171.4L378.9 169.4L378.9 167.4L379.0 165.4L379.0 163.4L379.0 161.4L379.0 159.4L379.1 157.4L379.1 155.4L379.1 153.4L379.1 151.3L379.1 149.3L379.2 147.3L379.2 145.3L379.2 143.3L379.2 141.3L379.2 139.3L379.2 137.3L379.2 135.3L379.3 133.3L379.3 131.3L379.3 129.3L379.3 127.3L379.3 125.3L379.3 123.3L379.3 121.3L379.3 119.2L379.3 117.2L379.3 115.2L379.3 113.2L379.3 111.2L379.3 109.2L379.3 107.2L379.3 105.2L379.3 103.2L379.3 101.2L379.2 99.2L379.2 97.2L379.2 95.2L379.2 93.2L379.2 91.2L379.2 89.1L379.2 87.1L379.2 85.1L379.1 83.1L379.1 81.1L379.1 79.1L379.1 77.1L379.1 75.1L379.0 73.1L379.0 71.1L379.0 69.1L379.0 67.1L378.9 65.1L378.9 63.1L378.9 61.1L378.8 59.0L378.8 57.0L378.8 55.0L378.7 53.0L378.7 51.0L378.7 49.0L378.6 47.0L378.6 45.0L378.6 43.0"/>
<path stroke="#ff0000" stroke-width="1.65" stroke-dasharray="10.3 8" d="M98.5 127.8L99.0 129.8L99.4 131.7L99.9 133.7L100.3 135.6L100.8 137.6L101.2 139.5L101.7 141.5L102.1 143.5L102.5 145.4L103.0 147.4L103.4 149.3L103.8 151.3L104.3 153.3L104.7 155.2L105.1 157.2L105.5 159.2L106.0 161.1L106.4 163.1L106.8 165.1L107.2 167.0L107.6 169.0L108.0 171.0L108.4 172.9L108.8 174.9L109.2 176.9L109.6 178.8L110.0 180.8L110.4 182.8L110.8 184.7L111.2 186.7L111.6 188.7L112.0 190.6L112.4 192.6L112.8 194.6L113.2 196.6L113.6 198.5L114.0 200.5L114.3 202.5L114.7 204.4L115.1 206.4L115.5 208.4L115.9 210.4L116.3 212.3L116.6 214.3L117.0 216.3L117.4 218.3L117.8 220.2L118.1 222.2L118.5 224.2L118.9 226.2L119.3 228.1L119.6 230.1L120.0 232.1L120.4 234.1L120.7 236.0L121.1 238.0L121.5 240.0L121.9 242.0L122.2 243.9L122.6 245.9L123.0 247.9L123.3 249.9L123.7 251.8L124.1 253.8L124.4 255.8L124.8 257.8L125.2 259.7L125.6 261.7L125.9 263.7L126.3 265.7L126.7 267.6L127.0 269.6L127.4 271.6L127.8 273.6L128.2 275.5L128.5 277.5L128.9 279.5L129.3 281.5L129.7 283.4L130.0 285.4L130.4 287.4L130.8 289.4L131.2 291.3L131.5 293.3L131.9 295.3L132.3 297.3L132.7 299.2L133.1 301.2L133.5 303.2L133.8 305.1L134.2 307.1L134.6 309.1L135.0 311.1L135.4 313.0L135.8 315.0L136.2 317.0L136.6 318.9L137.0 320.9L137.4 322.9L137.8 324.8L138.2 326.8L138.6 328.8L139.0 330.8L139.4 332.7L139.8 334.7L140.2 336.7L140.6 338.6L141.0 340.6L141.4 342.5L141.9 344.5L142.3 346.5L142.7 348.4L143.1 350.4L143.6 352.4L144.0 354.3L144.4 356.3L144.9 358.3L145.3 360.2L145.7 362.2L146.2 364.1L146.6 366.1L147.1 368.0L147.5 370.0L148.0 372.0L148.4 373.9L148.9 375.9L149.3 377.8L149.8 379.8L150.3 381.7L150.7 383.7L151.2 385.6L151.7 387.6L152.2 389.5L152.7 391.5L153.1 393.4L153.6 395.4L154.1 397.3L154.6 399.3L155.1 401.2L155.6 403.2L156.1 405.1L156.6 407.1L157.2 409.0L157.7 411.0L158.2 412.9L158.7 414.8L159.3 416.8L159.8 418.7L160.4 420.6L160.9 422.6L161.5 424.5L162.0 426.4L162.6 428.4L163.1 430.3L163.7 432.2L164.3 434.1L164.9 436.0L165.5 438.0L166.1 439.9L166.7 441.8L167.3 443.7L167.9 445.6L168.5 447.5L169.2 449.4L169.8 451.3L170.4 453.2L171.1 455.1L171.8 457.0L172.4 458.9L173.1 460.8L173.8 462.7L174.5 464.6L175.1 466.5L175.8 468.4L176.6 470.2L177.3 472.1L178.0 474.0L178.7 475.9L179.5 477.7L180.2 479.6L181.0 481.5L181.7 483.3L182.5 485.2L183.3 487.0L184.1 488.9L184.9 490.7L185.7 492.6L186.5 494.4L187.3 496.3L188.1 498.1L188.9 499.9L189.7 501.8L190.5 503.6L191.4 505.4L192.2 507.3L193.0 509.1L193.9 510.9L194.8 512.7L195.7 514.5L196.6 516.3L197.5 518.1L198.4 519.8L199.3 521.6L200.3 523.4L201.2 525.1L202.2 526.9L203.2 528.6L204.2 530.4L205.2 532.1L206.2 533.8L207.2 535.6L208.3 537.3L209.4 539.0L210.4 540.7L211.5 542.3L212.6 544.0L213.8 545.7L214.9 547.4L216.0 549.0L217.2 550.7L218.4 552.3L219.6 553.9L220.8 555.6L222.0 557.2L223.2 558.8L224.5 560.4L225.8 561.9L227.1 563.5L228.4 565.0L229.7 566.5L231.0 568.0L232.4 569.5L233.8 570.9L235.2 572.4L236.6 573.8L238.1 575.1L239.6 576.5L241.1 577.8L242.6 579.0L244.2 580.3L245.8 581.5L247.4 582.7L249.1 583.8L250.7 584.9L252.4 586.0L254.1 587.0L255.9 588.0L257.6 589.0L259.4 589.9L261.2 590.8L263.0 591.7L264.8 592.5L266.7 593.3L268.5 594.1L270.4 594.9L272.3 595.6L274.1 596.3L276.0 596.9L278.0 597.6L279.9 598.2L281.8 598.8L283.7 599.3L285.7 599.9L287.6 600.4L289.6 600.8L291.6 601.3L293.5 601.7L295.5 602.1L297.5 602.5L299.5 602.8L301.4 603.1L303.4 603.4L305.4 603.7L307.4 603.9L309.4 604.2L311.4 604.4L313.4 604.5L315.4 604.7L317.4 604.8L319.4 604.9L321.4 605.0L323.4 605.0L325.4 605.0L327.4 605.0L329.4 605.0L331.4 605.0L333.4 605.0L335.4 604.9L337.4 604.8L339.4 604.7L341.4 604.6L343.4 604.5L345.4 604.3L347.4 604.2L349.4 604.0L351.4 603.8L353.4 603.6L355.4 603.4L357.4 603.2L359.4 603.0L361.4 602.7L363.4 602.5L365.4 602.2L367.4 602.0L369.4 601.7L371.4 601.4L373.4 601.2L375.4 600.9L377.4 600.6L379.4 600.3L381.4 600.0L383.4 599.7L385.4 599.4L387.4 599.1L389.3 598.8L391.3 598.5L393.3 598.2L395.3 597.8L397.3 597.5L399.3 597.2L401.3 596.9L403.3 596.7L405.2 596.4L407.2 596.1L409.2 595.8L411.2 595.5L413.2 595.3L415.1 595.0L417.1 594.8L419.1 594.5L421.1 594.3"/>
<path stroke="#000" stroke-width="1.65" d="M98.0 84.9L98.4 86.9L98.8 88.8L99.2 90.8L99.6 92.7L100.1 94.7L100.5 96.6L100.9 98.6L101.3 100.6L101.7 102.5L102.1 104.5L102.5 106.4L102.8 108.4L103.2 110.4L103.6 112.3L104.0 114.3L104.4 116.3L104.8 118.2L105.2 120.2L105.5 122.1L105.9 124.1L106.3 126.1L106.7 128.0L107.0 130.0L107.4 132.0L107.8 134.0L108.1 135.9L108.5 137.9L108.9 139.9L109.2 141.8L109.6 143.8L109.9 145.8L110.3 147.8L110.6 149.7L111.0 151.7L111.3 153.7L111.7 155.6L112.0 157.6L112.4 159.6L112.7 161.6L113.1 163.5L113.4 165.5L113.8 167.5L114.1 169.5L114.5 171.5L114.8 173.4L115.2 175.4L115.5 177.4L115.8 179.4L116.2 181.3L116.5 183.3L116.9 185.3L117.2 187.3L117.5 189.3L117.9 191.2L118.2 193.2L118.5 195.2L118.9 197.2L119.2 199.2L119.5 201.1L119.9 203.1L120.2 205.1L120.6 207.1L120.9 209.1L121.2 211.0L121.6 213.0L121.9 215.0L122.2 217.0L122.6 219.0L122.9 220.9L123.2 222.9L123.6 224.9L123.9 226.9L124.3 228.9L124.6 230.8L124.9 232.8L125.3 234.8L125.6 236.8L126.0 238.8L126.3 240.7L126.6 242.7L127.0 244.7L127.3 246.7L127.7 248.7L128.0 250.6L128.4 252.6L128.7 254.6L129.1 256.6L129.4 258.5L129.8 260.5L130.1 262.5L130.5 264.5L130.8 266.4L131.2 268.4L131.5 270.4L131.9 272.4L132.3 274.4L132.6 276.3L133.0 278.3L133.3 280.3L133.7 282.2L134.1 284.2L134.4 286.2L134.8 288.2L135.2 290.1L135.6 292.1L135.9 294.1L136.3 296.0L136.7 298.0L137.1 300.0L137.5 302.0L137.9 303.9L138.2 305.9L138.6 307.9L139.0 309.8L139.4 311.8L139.8 313.8L140.2 315.7L140.6 317.7L141.0 319.6L141.4 321.6L141.9 323.6L142.3 325.5L142.7 327.5L143.1 329.5L143.5 331.4L143.9 333.4L144.4 335.3L144.8 337.3L145.2 339.2L145.7 341.2L146.1 343.2L146.5 345.1L147.0 347.1L147.4 349.0L147.9 351.0L148.3 352.9L148.8 354.9L149.3 356.8L149.7 358.8L150.2 360.7L150.7 362.7L151.1 364.6L151.6 366.5L152.1 368.5L152.6 370.4L153.1 372.4L153.6 374.3L154.1 376.2L154.6 378.2L155.1 380.1L155.6 382.1L156.1 384.0L156.6 385.9L157.1 387.9L157.6 389.8L158.2 391.7L158.7 393.6L159.2 395.6L159.8 397.5L160.3 399.4L160.9 401.4L161.4 403.3L162.0 405.2L162.5 407.1L163.1 409.0L163.7 411.0L164.2 412.9L164.8 414.8L165.4 416.7L166.0 418.6L166.6 420.5L167.2 422.4L167.8 424.4L168.4 426.3L169.0 428.2L169.6 430.1L170.3 432.0L170.9 433.9L171.5 435.8L172.2 437.7L172.8 439.6L173.4 441.5L174.1 443.4L174.8 445.3L175.4 447.2L176.1 449.0L176.8 450.9L177.5 452.8L178.1 454.7L178.8 456.6L179.5 458.5L180.2 460.4L180.9 462.2L181.7 464.1L182.4 466.0L183.1 467.8L183.9 469.7L184.6 471.6L185.4 473.4L186.1 475.3L186.9 477.2L187.6 479.0L188.4 480.9L189.2 482.7L190.0 484.6L190.8 486.4L191.6 488.2L192.4 490.1L193.2 491.9L194.1 493.7L194.9 495.6L195.7 497.4L196.6 499.2L197.4 501.0L198.3 502.8L199.2 504.6L200.1 506.4L201.0 508.2L201.9 510.0L202.8 511.8L203.7 513.6L204.6 515.4L205.5 517.2L206.5 518.9L207.4 520.7L208.4 522.5L209.4 524.2L210.3 526.0L211.3 527.7L212.3 529.5L213.3 531.2L214.3 533.0L215.4 534.7L216.4 536.4L217.4 538.1L218.5 539.8L219.6 541.5L220.7 543.2L221.8 544.9L222.9 546.5L224.0 548.2L225.2 549.8L226.4 551.4L227.6 553.0L228.8 554.6L230.0 556.2L231.3 557.7L232.5 559.3L233.8 560.8L235.2 562.3L236.5 563.7L237.9 565.2L239.3 566.6L240.7 568.0L242.2 569.3L243.6 570.7L245.2 572.0L246.7 573.3L248.3 574.5L249.9 575.7L251.5 576.9L253.2 578.1L254.9 579.2L256.6 580.3L258.4 581.3L260.2 582.3L262.0 583.2L263.8 584.1L265.7 584.9L267.5 585.7L269.4 586.4L271.3 587.0L273.2 587.6L275.2 588.1L277.1 588.5L279.1 588.8L281.0 589.1L283.0 589.3L285.0 589.3L287.0 589.3L289.0 589.2L291.0 589.0L292.9 588.7L294.9 588.3L296.8 587.8L298.8 587.2L300.6 586.6L302.5 585.8L304.3 584.9L306.0 584.0L307.7 582.9L309.3 581.8L310.9 580.6L312.4 579.3L313.9 578.0L315.3 576.6L316.6 575.1L317.9 573.6L319.2 572.0L320.4 570.4L321.5 568.7L322.7 567.0L323.7 565.3L324.7 563.6L325.7 561.8L326.7 560.0L327.6 558.2L328.4 556.4L329.3 554.6L330.0 552.7L330.8 550.9L331.5 549.0L332.2 547.1L332.9 545.2L333.5 543.3L334.1 541.4L334.7 539.5L335.3 537.6L335.9 535.7L336.4 533.7L336.9 531.8L337.4 529.8L337.8 527.9L338.3 525.9L338.8 523.9L339.2 522.0L339.6 520.0L340.0 518.0L340.4 516.1L340.8 514.1L341.2 512.1L341.6 510.1L342.0 508.2L342.4 506.2L342.8 504.2L343.2 502.2L343.5 500.3L343.9 498.3L344.3 496.3L344.6 494.3L345.0 492.4L345.3 490.4L345.7 488.4L346.0 486.4L346.3 484.5L346.7 482.5L347.0 480.5L347.3 478.5L347.6 476.6L348.0 474.6L348.3 472.6L348.6 470.6L348.9 468.7L349.2 466.7L349.5 464.7L349.8 462.7L350.1 460.7L350.4 458.8L350.7 456.8L351.0 454.8L351.3 452.8L351.6 450.8L351.9 448.9L352.2 446.9L352.5 444.9L352.8 442.9L353.1 440.9L353.3 438.9L353.6 437.0L353.9 435.0L354.2 433.0L354.5 431.0L354.7 429.0L355.0 427.0L355.3 425.1L355.5 423.1L355.8 421.1L356.1 419.1L356.3 417.1L356.6 415.1L356.8 413.1L357.1 411.1L357.4 409.2L357.6 407.2L357.9 405.2L358.1 403.2L358.4 401.2L358.6 399.2L358.9 397.2L359.1 395.2L359.3 393.2L359.6 391.3L359.8 389.3L360.0 387.3L360.3 385.3L360.5 383.3L360.7 381.3L361.0 379.3L361.2 377.3L361.4 375.3L361.6 373.3L361.9 371.3L362.1 369.4L362.3 367.4L362.5 365.4L362.7 363.4L362.9 361.4L363.2 359.4L363.4 357.4L363.6 355.4L363.8 353.4L364.0 351.4L364.2 349.4L364.4 347.4L364.6 345.4L364.8 343.4L365.0 341.4L365.2 339.4L365.4 337.4L365.6 335.4L365.7 333.5L365.9 331.5L366.1 329.5L366.3 327.5L366.5 325.5L366.7 323.5L366.8 321.5L367.0 319.5L367.2 317.5L367.4 315.5L367.5 313.5L367.7 311.5L367.9 309.5L368.0 307.5L368.2 305.5L368.4 303.5L368.5 301.5L368.7 299.5L368.8 297.5L369.0 295.5L369.2 293.5L369.3 291.5L369.5 289.5L369.6 287.5L369.8 285.5L369.9 283.5L370.1 281.5L370.2 279.5L370.3 277.5L370.5 275.5L370.6 273.5L370.7 271.5L370.9 269.5L371.0 267.5L371.1 265.5L371.3 263.5L371.4 261.5L371.5 259.5L371.7 257.5L371.8 255.5L371.9 253.5L372.0 251.5L372.1 249.5L372.3 247.4L372.4 245.4L372.5 243.4L372.6 241.4L372.7 239.4L372.8 237.4L372.9 235.4L373.0 233.4L373.1 231.4L373.2 229.4L373.3 227.4L373.4 225.4L373.5 223.4L373.6 221.4L373.7 219.4L373.8 217.4L373.9 215.4L374.0 213.4L374.1 211.4L374.2 209.4L374.3 207.4L374.3 205.4L374.4 203.4L374.5 201.4L374.6 199.4L374.7 197.4L374.7 195.3L374.8 193.3L374.9 191.3L375.0 189.3L375.0 187.3L375.1 185.3L375.2 183.3L375.2 181.3L375.3 179.3L375.4 177.3L375.4 175.3L375.5 173.3L375.5 171.3L375.6 169.3L375.6 167.3L375.7 165.3L375.7 163.3L375.8 161.3L375.8 159.3L375.9 157.3L375.9 155.2L376.0 153.2L376.0 151.2L376.1 149.2L376.1 147.2L376.1 145.2L376.2 143.2L376.2 141.2L376.2 139.2L376.3 137.2L376.3 135.2L376.3 133.2L376.4 131.2L376.4 129.2L376.4 127.2L376.4 125.2L376.5 123.2L376.5 121.2L376.5 119.2L376.5 117.2L376.5 115.2L376.5 113.1L376.6 111.1L376.6 109.1L376.6 107.1L376.6 105.1L376.6 103.1L376.6 101.1L376.6 99.1L376.6 97.1L376.6 95.1L376.6 93.1L376.6 91.1L376.6 89.1L376.6 87.1L376.6 85.1L376.6 83.1L376.6 81.1L376.6 79.1L376.5 77.1L376.5 75.1L376.5 73.1L376.5 71.1L376.5 69.1L376.5 67.1L376.4 65.1L376.4 63.1L376.4 61.1L376.4 59.1L376.3 57.0L376.3 55.0L376.3 53.0L376.3 51.0L376.2 49.0L376.2 47.0L376.2 45.0L376.1 43.0"/>
<path stroke="#ff0000" stroke-width="1.65" stroke-dasharray="10.3 8" d="M105.8 43.4L106.0 45.4L106.3 47.4L106.5 49.4L106.7 51.4L106.9 53.4L107.2 55.4L107.4 57.4L107.7 59.4L107.9 61.4L108.1 63.4L108.4 65.3L108.6 67.3L108.9 69.3L109.1 71.3L109.4 73.3L109.6 75.3L109.9 77.3L110.2 79.3L110.4 81.3L110.7 83.3L111.0 85.3L111.2 87.3L111.5 89.2L111.8 91.2L112.1 93.2L112.3 95.2L112.6 97.2L112.9 99.2L113.2 101.2L113.5 103.2L113.8 105.1L114.1 107.1L114.4 109.1L114.7 111.1L115.0 113.1L115.3 115.1L115.6 117.0L115.9 119.0L116.2 121.0L116.5 123.0L116.8 125.0L117.1 127.0L117.5 128.9L117.8 130.9L118.1 132.9L118.4 134.9L118.7 136.9L119.1 138.8L119.4 140.8L119.7 142.8L120.1 144.8L120.4 146.8L120.7 148.7L121.1 150.7L121.4 152.7L121.8 154.7L122.1 156.6L122.4 158.6L122.8 160.6L123.1 162.6L123.5 164.5L123.9 166.5L124.2 168.5L124.6 170.5L124.9 172.4L125.3 174.4L125.6 176.4L126.0 178.4L126.4 180.3L126.7 182.3L127.1 184.3L127.5 186.3L127.8 188.2L128.2 190.2L128.6 192.2L129.0 194.2L129.4 196.1L129.7 198.1L130.1 200.1L130.5 202.0L130.9 204.0L131.3 206.0L131.7 208.0L132.0 209.9L132.4 211.9L132.8 213.9L133.2 215.8L133.6 217.8L134.0 219.8L134.4 221.8L134.8 223.7L135.2 225.7L135.6 227.7L136.0 229.6L136.4 231.6L136.8 233.6L137.2 235.6L137.6 237.5L138.0 239.5L138.5 241.5L138.9 243.4L139.3 245.4L139.7 247.4L140.1 249.3L140.5 251.3L140.9 253.3L141.4 255.3L141.8 257.2L142.2 259.2L142.6 261.2L143.1 263.1L143.5 265.1L143.9 267.1L144.4 269.0L144.8 271.0L145.3 272.9L145.7 274.9L146.2 276.9L146.6 278.8L147.1 280.8L147.5 282.7L148.0 284.7L148.5 286.7L148.9 288.6L149.4 290.6L149.9 292.5L150.4 294.5L150.9 296.4L151.4 298.4L151.9 300.3L152.4 302.3L152.9 304.2L153.4 306.2L153.9 308.1L154.4 310.0L154.9 312.0L155.5 313.9L156.0 315.8L156.5 317.8L157.1 319.7L157.6 321.6L158.2 323.6L158.8 325.5L159.3 327.4L159.9 329.3L160.5 331.2L161.1 333.2L161.7 335.1L162.3 337.0L162.9 338.9L163.5 340.8L164.1 342.7L164.7 344.6L165.4 346.5L166.0 348.4L166.7 350.3L167.3 352.2L168.0 354.1L168.6 356.0L169.3 357.9L170.0 359.7L170.7 361.6L171.4 363.5L172.1 365.4L172.8 367.2L173.6 369.1L174.3 371.0L175.0 372.8L175.8 374.7L176.5 376.5L177.3 378.4L178.1 380.2L178.9 382.1L179.7 383.9L180.5 385.7L181.3 387.6L182.1 389.4L182.9 391.2L183.8 393.0L184.6 394.9L185.5 396.7L186.4 398.5L187.2 400.3L188.1 402.1L189.0 403.9L190.0 405.7L190.9 407.5L191.8 409.3L192.8 411.0L193.7 412.8L194.7 414.6L195.6 416.4L196.6 418.1L197.6 419.9L198.6 421.6L199.7 423.4L200.7 425.1L201.8 426.8L202.8 428.6L203.9 430.3L205.0 432.0L206.1 433.7L207.2 435.4L208.3 437.0L209.5 438.7L210.6 440.4L211.8 442.0L213.0 443.6L214.2 445.3L215.4 446.9L216.6 448.4L217.9 450.0L219.1 451.6L220.4 453.1L221.7 454.7L223.0 456.2L224.3 457.7L225.7 459.2L227.0 460.6L228.4 462.1L229.8 463.5L231.2 464.9L232.7 466.3L234.1 467.7L235.6 469.1L237.1 470.4L238.6 471.7L240.1 473.0L241.7 474.3L243.2 475.5L244.8 476.7L246.4 477.9L248.0 479.1L249.7 480.3L251.3 481.4L253.0 482.5L254.7 483.6L256.4 484.7L258.1 485.7L259.8 486.7L261.6 487.7L263.3 488.7L265.1 489.6L266.9 490.5L268.7 491.4L270.5 492.2L272.3 493.1L274.1 493.9L276.0 494.6L277.8 495.4L279.7 496.1L281.6 496.8L283.4 497.4L285.3 498.0L287.2 498.6L289.1 499.2L291.1 499.7L293.0 500.2L294.9 500.7L296.9 501.1L298.8 501.5L300.8 501.9L302.7 502.3L304.7 502.6L306.7 502.9L308.6 503.2L310.6 503.4L312.6 503.6L314.6 503.8L316.6 504.0L318.6 504.2L320.6 504.3L322.6 504.4L324.6 504.5L326.6 504.6L328.7 504.6L330.7 504.7L332.7 504.7L334.7 504.7L336.8 504.7L338.8 504.6L340.8 504.6L342.8 504.5L344.9 504.5L346.9 504.4L348.9 504.3L351.0 504.2L353.0 504.1L355.0 504.0L357.0 503.9L359.1 503.8L361.1 503.6L363.1 503.5L365.1 503.3L367.2 503.2L369.2 503.0L371.2 502.9L373.2 502.7L375.2 502.6L377.2 502.4L379.2 502.3L381.2 502.1L383.2 501.9L385.2 501.8L387.2 501.6L389.2 501.4L391.2 501.3L393.2 501.1L395.2 501.0L397.2 500.8L399.2 500.7L401.2 500.5L403.2 500.4L405.2 500.3L407.1 500.1L409.1 500.0L411.1 499.9L413.1 499.8L415.1 499.7L417.0 499.6L419.0 499.5L421.0 499.5"/>
<path stroke="#000" stroke-width="1.65" d="M107.7 43.4L108.0 45.4L108.2 47.4L108.5 49.4L108.7 51.4L109.0 53.4L109.2 55.4L109.5 57.4L109.7 59.4L110.0 61.3L110.2 63.3L110.5 65.3L110.8 67.3L111.0 69.3L111.3 71.3L111.6 73.3L111.9 75.3L112.1 77.3L112.4 79.3L112.7 81.2L113.0 83.2L113.3 85.2L113.6 87.2L113.9 89.2L114.1 91.1L114.4 93.1L114.7 95.1L115.0 97.1L115.3 99.1L115.6 101.0L115.9 103.0L116.3 105.0L116.6 107.0L116.9 108.9L117.2 110.9L117.5 112.9L117.8 114.9L118.1 116.8L118.5 118.8L118.8 120.8L119.1 122.8L119.4 124.7L119.8 126.7L120.1 128.7L120.4 130.6L120.8 132.6L121.1 134.6L121.4 136.6L121.8 138.5L122.1 140.5L122.4 142.5L122.8 144.4L123.1 146.4L123.5 148.4L123.8 150.3L124.2 152.3L124.5 154.3L124.9 156.3L125.2 158.2L125.6 160.2L125.9 162.2L126.3 164.1L126.6 166.1L127.0 168.1L127.3 170.0L127.7 172.0L128.0 174.0L128.4 175.9L128.8 177.9L129.1 179.9L129.5 181.9L129.9 183.8L130.2 185.8L130.6 187.8L131.0 189.7L131.3 191.7L131.7 193.7L132.1 195.7L132.4 197.6L132.8 199.6L133.2 201.6L133.6 203.5L133.9 205.5L134.3 207.5L134.7 209.5L135.1 211.4L135.5 213.4L135.8 215.4L136.2 217.4L136.6 219.3L137.0 221.3L137.4 223.3L137.8 225.3L138.2 227.2L138.6 229.2L139.0 231.2L139.4 233.1L139.8 235.1L140.2 237.1L140.6 239.1L141.0 241.0L141.4 243.0L141.9 245.0L142.3 246.9L142.7 248.9L143.1 250.9L143.6 252.8L144.0 254.8L144.4 256.8L144.9 258.7L145.3 260.7L145.8 262.6L146.2 264.6L146.7 266.6L147.1 268.5L147.6 270.5L148.0 272.4L148.5 274.4L149.0 276.3L149.5 278.3L149.9 280.3L150.4 282.2L150.9 284.1L151.4 286.1L151.9 288.0L152.4 290.0L152.9 291.9L153.4 293.9L154.0 295.8L154.5 297.7L155.0 299.7L155.5 301.6L156.1 303.6L156.6 305.5L157.2 307.4L157.7 309.3L158.3 311.3L158.8 313.2L159.4 315.1L160.0 317.0L160.6 319.0L161.1 320.9L161.7 322.8L162.3 324.7L162.9 326.6L163.5 328.5L164.2 330.4L164.8 332.3L165.4 334.2L166.0 336.1L166.7 338.0L167.3 339.9L168.0 341.8L168.6 343.7L169.3 345.6L170.0 347.5L170.7 349.3L171.3 351.2L172.0 353.1L172.7 355.0L173.4 356.8L174.2 358.7L174.9 360.6L175.6 362.4L176.3 364.3L177.1 366.2L177.8 368.0L178.6 369.9L179.4 371.7L180.1 373.6L180.9 375.4L181.7 377.2L182.5 379.1L183.3 380.9L184.1 382.7L185.0 384.6L185.8 386.4L186.6 388.2L187.5 390.0L188.3 391.8L189.2 393.6L190.1 395.4L191.0 397.2L191.9 399.0L192.8 400.8L193.7 402.6L194.6 404.4L195.5 406.2L196.5 407.9L197.4 409.7L198.4 411.4L199.4 413.2L200.4 414.9L201.4 416.7L202.4 418.4L203.4 420.1L204.5 421.8L205.5 423.5L206.6 425.2L207.7 426.9L208.8 428.5L209.9 430.2L211.1 431.8L212.2 433.5L213.4 435.1L214.6 436.7L215.8 438.3L217.0 439.9L218.2 441.5L219.5 443.0L220.7 444.6L222.0 446.1L223.3 447.6L224.7 449.2L226.0 450.6L227.4 452.1L228.7 453.6L230.1 455.0L231.5 456.5L233.0 457.9L234.4 459.3L235.9 460.7L237.3 462.1L238.8 463.5L240.3 464.8L241.8 466.2L243.3 467.5L244.8 468.8L246.4 470.1L247.9 471.4L249.5 472.6L251.1 473.9L252.6 475.1L254.2 476.4L255.8 477.6L257.4 478.8L259.0 480.0L260.6 481.1L262.2 482.3L263.8 483.4L265.5 484.5L267.2 485.5L268.9 486.4L270.8 487.1L272.6 487.8L274.6 488.4L276.5 488.9L278.5 489.3L280.5 489.6L282.5 489.8L284.5 490.0L286.5 490.1L288.6 490.2L290.6 490.2L292.6 490.0L294.7 489.9L296.7 489.6L298.7 489.3L300.7 488.9L302.6 488.4L304.5 487.8L306.4 487.1L308.2 486.3L310.0 485.5L311.7 484.6L313.4 483.5L315.0 482.4L316.5 481.2L318.0 479.9L319.4 478.5L320.8 477.1L322.1 475.6L323.3 474.0L324.5 472.4L325.7 470.7L326.8 469.0L327.9 467.3L329.0 465.5L330.0 463.8L331.0 462.0L331.9 460.2L332.8 458.3L333.7 456.5L334.6 454.7L335.4 452.9L336.2 451.0L337.0 449.2L337.8 447.3L338.5 445.4L339.2 443.6L339.8 441.7L340.4 439.8L341.0 437.9L341.5 436.0L342.0 434.1L342.5 432.1L343.0 430.2L343.4 428.2L343.8 426.3L344.2 424.3L344.6 422.4L344.9 420.4L345.3 418.4L345.6 416.5L345.9 414.5L346.2 412.5L346.4 410.5L346.7 408.5L347.0 406.5L347.2 404.5L347.5 402.6L347.8 400.6L348.0 398.6L348.3 396.6L348.5 394.6L348.8 392.6L349.1 390.6L349.3 388.6L349.6 386.6L349.8 384.6L350.1 382.6L350.4 380.6L350.6 378.7L350.9 376.7L351.2 374.7L351.4 372.7L351.7 370.7L352.0 368.7L352.3 366.7L352.5 364.7L352.8 362.7L353.1 360.8L353.3 358.8L353.6 356.8L353.9 354.8L354.1 352.8L354.4 350.8L354.7 348.8L354.9 346.8L355.2 344.8L355.5 342.9L355.7 340.9L356.0 338.9L356.3 336.9L356.5 334.9L356.8 332.9L357.0 330.9L357.3 328.9L357.6 326.9L357.8 325.0L358.1 323.0L358.3 321.0L358.6 319.0L358.8 317.0L359.1 315.0L359.4 313.0L359.6 311.0L359.9 309.1L360.1 307.1L360.3 305.1L360.6 303.1L360.8 301.1L361.1 299.1L361.3 297.1L361.5 295.1L361.8 293.1L362.0 291.1L362.2 289.2L362.5 287.2L362.7 285.2L362.9 283.2L363.1 281.2L363.3 279.2L363.6 277.2L363.8 275.2L364.0 273.2L364.2 271.2L364.4 269.2L364.6 267.2L364.8 265.3L365.0 263.3L365.2 261.3L365.4 259.3L365.6 257.3L365.8 255.3L365.9 253.3L366.1 251.3L366.3 249.3L366.5 247.3L366.6 245.3L366.8 243.3L367.0 241.3L367.1 239.3L367.3 237.3L367.4 235.3L367.6 233.3L367.7 231.3L367.9 229.3L368.0 227.3L368.1 225.3L368.3 223.3L368.4 221.3L368.5 219.3L368.6 217.3L368.8 215.3L368.9 213.3L369.0 211.3L369.1 209.3L369.2 207.3L369.3 205.3L369.4 203.3L369.5 201.3L369.6 199.3L369.7 197.3L369.8 195.3L369.9 193.3L370.0 191.3L370.1 189.3L370.2 187.3L370.3 185.3L370.3 183.3L370.4 181.3L370.5 179.3L370.6 177.3L370.6 175.3L370.7 173.3L370.8 171.3L370.8 169.3L370.9 167.3L370.9 165.3L371.0 163.3L371.0 161.3L371.1 159.3L371.1 157.3L371.2 155.3L371.2 153.3L371.3 151.2L371.3 149.2L371.4 147.2L371.4 145.2L371.4 143.2L371.5 141.2L371.5 139.2L371.5 137.2L371.5 135.2L371.6 133.2L371.6 131.2L371.6 129.2L371.6 127.2L371.7 125.2L371.7 123.2L371.7 121.2L371.7 119.2L371.7 117.2L371.7 115.1L371.7 113.1L371.7 111.1L371.7 109.1L371.7 107.1L371.7 105.1L371.7 103.1L371.7 101.1L371.7 99.1L371.7 97.1L371.7 95.1L371.7 93.1L371.7 91.1L371.7 89.1L371.7 87.1L371.7 85.1L371.7 83.1L371.7 81.1L371.7 79.1L371.6 77.1L371.6 75.0L371.6 73.0L371.6 71.0L371.6 69.0L371.6 67.0L371.5 65.0L371.5 63.0L371.5 61.0L371.5 59.0L371.4 57.0L371.4 55.0L371.4 53.0L371.4 51.0L371.3 49.0L371.3 47.0L371.3 45.0L371.2 43.0"/>
<path stroke="#ff0000" stroke-width="1.65" stroke-dasharray="10.3 8" d="M151.6 44.4L152.5 46.2L153.3 48.0L154.1 49.7L154.9 51.5L155.8 53.3L156.6 55.1L157.4 56.8L158.2 58.6L159.1 60.4L159.9 62.3L160.7 64.1L161.5 65.9L162.4 67.7L163.2 69.5L164.0 71.4L164.9 73.2L165.7 75.0L166.5 76.9L167.4 78.7L168.2 80.6L169.1 82.4L169.9 84.2L170.8 86.1L171.7 87.9L172.5 89.8L173.4 91.6L174.3 93.4L175.2 95.3L176.1 97.1L177.0 98.9L177.9 100.8L178.8 102.6L179.8 104.4L180.7 106.2L181.7 108.0L182.6 109.8L183.6 111.6L184.6 113.4L185.6 115.2L186.6 117.0L187.6 118.8L188.6 120.5L189.6 122.3L190.7 124.0L191.7 125.8L192.8 127.5L193.9 129.2L195.0 130.9L196.1 132.6L197.2 134.3L198.4 136.0L199.5 137.6L200.7 139.3L201.9 140.9L203.1 142.6L204.3 144.2L205.6 145.8L206.8 147.4L208.1 148.9L209.4 150.5L210.7 152.0L212.0 153.5L213.4 155.0L214.7 156.5L216.1 158.0L217.5 159.5L218.9 160.9L220.4 162.3L221.8 163.7L223.3 165.1L224.8 166.5L226.3 167.8L227.8 169.1L229.3 170.4L230.9 171.7L232.4 173.0L234.0 174.2L235.6 175.4L237.2 176.6L238.9 177.8L240.5 178.9L242.2 180.0L243.8 181.1L245.5 182.2L247.2 183.2L249.0 184.3L250.7 185.2L252.5 186.2L254.2 187.2L256.0 188.1L257.8 189.0L259.6 189.8L261.4 190.6L263.3 191.5L265.1 192.2L267.0 193.0L268.8 193.7L270.7 194.4L272.6 195.1L274.5 195.8L276.4 196.4L278.3 197.0L280.3 197.6L282.2 198.2L284.1 198.7L286.1 199.3L288.1 199.8L290.0 200.3L292.0 200.7L294.0 201.1L296.0 201.6L297.9 202.0L299.9 202.3L301.9 202.7L303.9 203.0L305.9 203.3L307.9 203.6L310.0 203.9L312.0 204.2L314.0 204.4L316.0 204.7L318.0 204.9L320.0 205.1L322.1 205.3L324.1 205.4L326.1 205.6L328.2 205.7L330.2 205.8L332.2 206.0L334.2 206.1L336.3 206.1L338.3 206.2L340.4 206.3L342.4 206.4L344.4 206.4L346.5 206.4L348.5 206.5L350.5 206.5L352.6 206.5L354.6 206.5L356.7 206.5L358.7 206.5L360.7 206.5L362.8 206.5L364.8 206.5L366.8 206.5L368.9 206.4L370.9 206.4L372.9 206.4L375.0 206.4L377.0 206.3L379.0 206.3L381.0 206.3L383.1 206.2L385.1 206.2L387.1 206.2L389.1 206.1L391.1 206.1L393.1 206.1L395.1 206.1L397.1 206.1L399.1 206.1L401.1 206.1L403.1 206.1L405.1 206.1L407.1 206.1L409.1 206.1L411.1 206.1L413.1 206.2L415.0 206.2L417.0 206.3L419.0 206.3L420.9 206.4"/>
<path stroke="#000" stroke-width="1.65" d="M152.3 43.6L153.1 45.4L154.0 47.2L154.8 49.0L155.6 50.8L156.5 52.6L157.3 54.4L158.1 56.2L159.0 58.0L159.8 59.8L160.6 61.6L161.4 63.5L162.3 65.3L163.1 67.1L163.9 68.9L164.8 70.8L165.6 72.6L166.5 74.4L167.3 76.3L168.1 78.1L169.0 80.0L169.9 81.8L170.7 83.6L171.6 85.5L172.5 87.3L173.3 89.1L174.2 91.0L175.1 92.8L176.0 94.6L176.9 96.4L177.8 98.3L178.7 100.1L179.7 101.9L180.6 103.7L181.5 105.5L182.5 107.3L183.4 109.1L184.4 110.9L185.4 112.6L186.4 114.4L187.4 116.2L188.4 117.9L189.4 119.7L190.4 121.4L191.5 123.2L192.5 124.9L193.6 126.6L194.7 128.3L195.8 130.0L196.9 131.7L198.0 133.4L199.1 135.0L200.3 136.7L201.4 138.3L202.6 140.0L203.8 141.6L205.0 143.2L206.2 144.8L207.5 146.3L208.7 147.9L210.0 149.5L211.3 151.0L212.6 152.5L213.9 154.0L215.3 155.5L216.6 157.0L218.0 158.5L219.4 159.9L220.8 161.3L222.3 162.7L223.7 164.1L225.2 165.5L226.7 166.8L228.2 168.2L229.7 169.5L231.3 170.8L232.8 172.1L234.4 173.3L236.0 174.5L237.6 175.7L239.2 176.9L240.9 178.1L242.5 179.2L244.2 180.3L245.9 181.4L247.6 182.5L249.3 183.5L251.1 184.5L252.8 185.5L254.6 186.4L256.4 187.4L258.2 188.2L260.0 189.1L261.9 190.0L263.7 190.8L265.6 191.5L267.4 192.3L269.3 193.0L271.2 193.7L273.2 194.3L275.1 194.9L277.0 195.5L279.0 196.1L280.9 196.6L282.9 197.1L284.9 197.6L286.9 198.0L288.9 198.4L290.9 198.7L292.9 199.0L294.9 199.3L297.0 199.6L299.0 199.8L301.0 200.0L303.1 200.1L305.1 200.2L307.1 200.3L309.1 200.3L311.2 200.2L313.2 200.1L315.2 200.0L317.2 199.8L319.2 199.5L321.1 199.2L323.1 198.7L325.0 198.3L326.9 197.7L328.8 197.1L330.6 196.4L332.5 195.7L334.3 194.8L336.1 193.9L337.8 193.0L339.5 192.0L341.2 190.9L342.8 189.7L344.4 188.5L345.9 187.3L347.4 186.0L348.8 184.6L350.2 183.2L351.5 181.7L352.8 180.1L354.0 178.5L355.2 176.9L356.3 175.2L357.3 173.5L358.2 171.7L359.1 169.9L359.9 168.0L360.7 166.1L361.3 164.1L361.9 162.1L362.4 160.1L362.8 158.0L363.2 155.9L363.4 153.8L363.5 151.6L363.8 152.0L363.6 43.0"/>
<path stroke="#ff0000" stroke-width="2.1" d="M197.3 711.8H208.2M215.8 711.8H253.0M260.8 711.8H271.7M279.6 711.8H289.8M297.6 711.8H309.4M316.5 711.8H356.8M358.0 711.8H413.2M414.6 711.8H420.4"/>
</g>
<g clip-path="url(#cr)" fill="none" stroke-linejoin="round">
<path stroke="#0000ff" stroke-width="1.9" stroke-dasharray="1.9 4.1" d="M429.9 43.0L429.9 106.8"/>
<path stroke="#0000ff" stroke-width="1.9" stroke-dasharray="1.9 4.1" d="M438.6 43.0L438.6 146.3"/>
<path stroke="#0000ff" stroke-width="1.9" stroke-dasharray="1.9 4.1" d="M438.6 46.0L438.6 69.0"/>
<path stroke="#0000ff" stroke-width="1.9" stroke-dasharray="1.9 4.1" d="M444.6 43.0L444.7 183.0L444.6 183.0L445.1 185.0L445.5 186.9L445.9 188.9L446.3 190.9L446.7 192.8L447.0 194.8L447.4 196.8L447.7 198.8L448.0 200.8L448.2 202.8L448.5 204.8L448.8 206.7L449.1 208.7L449.4 210.7L449.7 212.7L449.9 214.7L450.3 216.7L450.6 218.7L450.9 220.6L451.3 222.6L451.7 224.6L452.0 226.5L452.4 228.5L452.8 230.5L453.2 232.4L453.7 234.4L454.1 236.4L454.5 238.3L455.0 240.3L455.4 242.2L455.9 244.2L456.3 246.1L456.8 248.1L457.2 250.0L457.7 252.0L458.1 254.0L458.6 255.9L459.0 257.9L459.4 259.8L459.9 261.8L460.3 263.8L460.7 265.7L461.1 267.7L461.6 269.7L462.0 271.6L462.4 273.6L462.8 275.6L463.2 277.5L463.5 279.5L463.9 281.5L464.3 283.5L464.7 285.5L465.1 287.4L465.4 289.4L465.8 291.4L466.2 293.4L466.5 295.4L466.9 297.3L467.2 299.3L467.6 301.3L468.0 303.3L468.3 305.3L468.7 307.3L469.0 309.2L469.4 311.2L469.8 313.2L470.1 315.2L470.5 317.2L470.9 319.1L471.2 321.1L471.6 323.1L472.0 325.1L472.3 327.1L472.7 329.0L473.1 331.0L473.5 333.0L473.9 334.9L474.3 336.9L474.7 338.9L475.1 340.8L475.5 342.8L475.9 344.8L476.3 346.7L476.7 348.7L477.2 350.6L477.6 352.6L478.0 354.6L478.4 356.5L478.9 358.5L479.3 360.4L479.7 362.4L480.2 364.3L480.6 366.3L481.1 368.2L481.5 370.2L482.0 372.1L482.4 374.1L482.9 376.0L483.3 378.0L483.8 379.9L484.3 381.9L484.7 383.8L485.2 385.7L485.7 387.7L486.1 389.6L486.6 391.6L487.1 393.5L487.6 395.5L488.1 397.4L488.5 399.4L489.0 401.3L489.5 403.3L490.0 405.2L490.5 407.1L491.0 409.1L491.5 411.0L492.0 413.0L492.5 414.9L493.0 416.9L493.5 418.8L494.0 420.8L494.4 422.7L494.9 424.7L495.5 426.6L496.0 428.6L496.5 430.5L497.0 432.5L497.5 434.4L498.0 436.4L498.5 438.3L499.0 440.3L499.5 442.2L500.0 444.2L500.5 446.2L501.0 448.1L501.5 450.1L502.1 452.0L502.6 454.0L503.1 455.9L503.6 457.9L504.2 459.8L504.7 461.8L505.2 463.7L505.8 465.7L506.3 467.6L506.8 469.6L507.4 471.5L507.9 473.5L508.5 475.4L509.1 477.4L509.6 479.3L510.2 481.2L510.7 483.2L511.3 485.1L511.9 487.0L512.5 489.0L513.1 490.9L513.7 492.8L514.3 494.8L514.9 496.7L515.5 498.6L516.1 500.5L516.7 502.4L517.3 504.3L518.0 506.2L518.6 508.1L519.2 510.1L519.9 511.9L520.5 513.8L521.2 515.7L521.9 517.6L522.5 519.5L523.2 521.4L523.9 523.3L524.6 525.1L525.3 527.0L526.0 528.9L526.7 530.7L527.5 532.6L528.2 534.4L528.9 536.3L529.7 538.1L530.4 540.0L531.2 541.8L532.0 543.6L532.8 545.4L533.5 547.3L534.3 549.1L535.1 550.9L535.9 552.7L536.8 554.5L537.6 556.3L538.4 558.1L539.3 559.9L540.1 561.7L541.0 563.6L541.8 565.4L542.7 567.2L543.6 569.0L544.4 570.7L545.3 572.5L546.2 574.3L547.1 576.1L548.0 577.9L548.9 579.8L549.9 581.6L550.8 583.4L551.7 585.2L552.7 587.0L553.6 588.8L554.6 590.6L555.6 592.3L556.5 594.1L557.5 595.9L558.5 597.7L559.5 599.5L560.5 601.2L561.6 603.0L562.6 604.8L563.6 606.5L564.7 608.3L565.8 610.0L566.8 611.7L567.9 613.4L569.0 615.1L570.2 616.8L571.3 618.5L572.4 620.2L573.6 621.8L574.8 623.5L576.0 625.1L577.2 626.7L578.4 628.3L579.6 629.9L580.9 631.5L582.1 633.0L583.4 634.6L584.7 636.1L586.0 637.6L587.3 639.1L588.7 640.6L590.0 642.0L591.4 643.4L592.8 644.8L594.2 646.2L595.7 647.6L597.1 648.9L598.6 650.2L600.1 651.5L601.6 652.8L603.2 654.1L604.7 655.3L606.3 656.5L607.9 657.6L609.5 658.8L611.1 659.9L612.8 661.0L614.5 662.0L616.2 663.1L617.9 664.1L619.7 665.0L621.5 666.0L623.2 666.9L625.1 667.7L626.9 668.6L628.7 669.4L630.6 670.2L632.5 671.0L634.4 671.7L636.3 672.4L638.2 673.1L640.2 673.8L642.1 674.4L644.1 675.0L646.0 675.6L648.0 676.2L650.0 676.7L651.9 677.2L653.9 677.7L655.9 678.2L657.9 678.6L659.9 679.0L661.9 679.4L663.9 679.8L665.8 680.2L667.8 680.5L669.8 680.8L671.8 681.1L673.8 681.4L675.8 681.6L677.7 681.9L679.7 682.1L681.7 682.3L683.7 682.5L685.7 682.7L687.6 682.8L689.6 683.0L691.6 683.1L693.6 683.2L695.6 683.3L697.6 683.4L699.6 683.5L701.5 683.6L703.5 683.7L705.5 683.7L707.5 683.8L709.5 683.8L711.5 683.9L713.5 683.9L715.5 683.9L717.5 683.9L719.5 683.9L721.5 684.0L723.5 684.0L725.5 684.0L727.5 684.0L729.5 684.0L731.5 684.0L733.6 684.0L735.6 684.0L737.6 684.0L739.6 684.0L741.7 684.0L743.7 684.0L745.7 684.0L747.8 684.0L749.8 684.0L751.9 684.0"/>
<path stroke="#000" stroke-width="1.65" d="M434.2 380.2L434.7 382.2L435.1 384.1L435.5 386.1L436.0 388.1L436.4 390.0L436.9 392.0L437.3 394.0L437.7 395.9L438.2 397.9L438.6 399.9L439.0 401.9L439.5 403.8L439.9 405.8L440.4 407.8L440.8 409.7L441.3 411.7L441.7 413.7L442.1 415.6L442.6 417.6L443.0 419.6L443.5 421.5L443.9 423.5L444.4 425.5L444.8 427.4L445.3 429.4L445.8 431.4L446.2 433.3L446.7 435.3L447.1 437.2L447.6 439.2L448.1 441.2L448.5 443.1L449.0 445.1L449.5 447.1L449.9 449.0L450.4 451.0L450.9 452.9L451.4 454.9L451.8 456.9L452.3 458.8L452.8 460.8L453.3 462.7L453.8 464.7L454.3 466.7L454.8 468.6L455.3 470.6L455.8 472.5L456.3 474.5L456.8 476.4L457.3 478.4L457.8 480.3L458.3 482.3L458.8 484.2L459.3 486.2L459.8 488.1L460.4 490.1L460.9 492.0L461.4 494.0L461.9 495.9L462.5 497.9L463.0 499.8L463.5 501.7L464.1 503.7L464.6 505.6L465.2 507.6L465.7 509.5L466.3 511.4L466.8 513.4L467.4 515.3L467.9 517.3L468.5 519.2L469.1 521.1L469.6 523.1L470.2 525.0L470.8 526.9L471.3 528.9L471.9 530.8L472.5 532.7L473.0 534.7L473.6 536.6L474.2 538.5L474.8 540.5L475.3 542.4L475.9 544.3L476.5 546.3L477.1 548.2L477.7 550.1L478.2 552.0L478.8 554.0L479.4 555.9L480.0 557.8L480.6 559.8L481.2 561.7L481.8 563.6L482.4 565.5L483.0 567.5L483.5 569.4L484.1 571.3L484.7 573.3L485.3 575.2L485.9 577.1L486.5 579.0L487.1 581.0L487.7 582.9L488.3 584.8L488.9 586.7L489.5 588.7L490.1 590.6L490.7 592.5L491.3 594.4L492.0 596.3L492.6 598.3L493.2 600.2L493.8 602.1L494.4 604.0L495.0 606.0L495.6 607.9L496.2 609.8L496.8 611.7L497.5 613.6L498.1 615.6L498.7 617.5L499.3 619.4L499.9 621.3L500.5 623.3L501.2 625.2L501.8 627.1L502.4 629.0L503.0 630.9L503.7 632.8L504.3 634.8L504.9 636.7L505.6 638.6L506.2 640.5L506.9 642.4L507.5 644.3L508.2 646.2L508.8 648.1L509.5 650.0L510.1 652.0L510.8 653.9L511.5 655.8L512.1 657.7L512.8 659.6L513.5 661.5L514.2 663.4L514.8 665.3L515.5 667.2L516.2 669.0L516.9 670.9L517.6 672.8L518.3 674.7L519.0 676.6L519.8 678.5L520.5 680.4L521.2 682.2L521.9 684.1L522.7 686.0L523.4 687.9L524.2 689.7L524.9 691.6L525.7 693.5L526.5 695.3L527.2 697.2L528.0 699.1L528.8 700.9L529.6 702.8L530.4 704.6L531.2 706.5L532.0 708.3L532.8 710.1L533.7 712.0M682.9 712.0L683.4 710.1L684.0 708.2L684.5 706.2L684.9 704.3L685.4 702.3L685.8 700.4L686.3 698.4L686.7 696.5L687.0 694.5L687.4 692.6L687.8 690.6L688.1 688.6L688.4 686.7L688.7 684.7L689.1 682.7L689.3 680.7L689.6 678.7L689.9 676.7L690.2 674.8L690.4 672.8L690.6 670.8L690.9 668.8L691.1 666.8L691.3 664.8L691.6 662.8L691.8 660.8L692.0 658.8L692.2 656.8L692.4 654.8L692.6 652.8L692.9 650.8L693.1 648.8L693.3 646.8L693.5 644.8L693.7 642.8L694.0 640.8L694.2 638.8L694.4 636.8L694.6 634.8L694.9 632.8L695.1 630.8L695.3 628.8L695.6 626.8L695.8 624.8L696.1 622.8L696.3 620.8L696.5 618.8L696.8 616.8L697.0 614.8L697.3 612.8L697.5 610.8L697.7 608.8L698.0 606.8L698.2 604.9L698.5 602.9L698.7 600.9L698.9 598.9L699.2 596.9L699.4 594.9L699.7 592.9L699.9 590.9L700.1 588.9L700.4 586.9L700.6 584.9L700.8 582.9L701.0 580.9L701.3 578.9L701.5 576.9L701.7 574.9L701.9 572.9L702.1 570.9L702.4 568.9L702.6 566.9L702.8 564.9L703.0 562.9L703.2 561.0L703.4 559.0L703.5 557.0L703.7 555.0L703.9 553.0L704.1 551.0L704.3 549.0L704.4 547.0L704.6 545.0L704.8 543.0L704.9 541.0L705.1 539.0L705.2 537.0L705.4 534.9L705.5 532.9L705.6 530.9L705.8 528.9L705.9 526.9L706.0 524.9L706.2 522.9L706.3 520.9L706.4 518.9L706.6 516.9L706.7 514.9L706.8 512.9L706.9 510.9L707.0 508.9L707.2 506.9L707.3 504.9L707.4 502.9L707.5 500.9L707.6 498.9L707.7 496.9L707.9 494.8L708.0 492.8L708.1 490.8L708.2 488.8L708.3 486.8L708.4 484.8L708.6 482.8L708.7 480.8L708.8 478.8L708.9 476.8L709.1 474.8L709.2 472.8L709.3 470.8L709.5 468.8L709.6 466.8L709.7 464.8L709.9 462.8L710.0 460.8L710.2 458.7L710.3 456.7L710.4 454.7L710.6 452.7L710.7 450.7L710.9 448.7L711.0 446.7L711.1 444.7L711.3 442.7L711.4 440.7L711.5 438.7L711.7 436.7L711.8 434.7L711.9 432.7L712.0 430.7L712.1 428.7L712.3 426.7L712.4 424.7L712.5 422.7L712.6 420.7L712.7 418.6L712.8 416.6L712.9 414.6L713.0 412.6L713.1 410.6L713.2 408.6L713.2 406.6L713.3 404.6L713.4 402.6L713.5 400.6L713.5 398.6L713.6 396.6L713.7 394.6L713.7 392.6L713.8 390.6L713.8 388.5L713.9 386.5L713.9 384.5L714.0 382.5L714.0 380.5L714.1 378.5L714.1 376.5L714.2 374.5L714.2 372.5L714.2 370.5L714.3 368.5L714.3 366.5L714.3 364.5L714.4 362.4L714.4 360.4L714.4 358.4L714.4 356.4L714.5 354.4L714.5 352.4L714.5 350.4L714.5 348.4L714.5 346.4L714.5 344.4L714.6 342.4L714.6 340.3L714.6 338.3L714.6 336.3L714.6 334.3L714.6 332.3L714.6 330.3L714.6 328.3L714.6 326.3L714.6 324.3L714.6 322.3L714.6 320.3L714.6 318.2L714.6 316.2L714.6 314.2L714.6 312.2L714.6 310.2L714.6 308.2L714.6 306.2L714.6 304.2L714.6 302.2L714.6 300.2L714.6 298.1L714.6 296.1L714.6 294.1L714.6 292.1L714.6 290.1L714.6 288.1L714.6 286.1L714.6 284.1L714.6 282.1L714.6 280.1L714.6 278.1L714.6 276.0L714.6 274.0L714.6 272.0L714.6 270.0L714.6 268.0L714.6 266.0L714.6 264.0L714.6 262.0L714.6 260.0L714.6 258.0L714.6 256.0L714.5 253.9L714.5 251.9L714.5 249.9L714.5 247.9L714.5 245.9L714.5 243.9L714.5 241.9L714.5 239.9L714.5 237.9L714.5 235.9L714.5 233.9L714.5 231.8L714.5 229.8L714.5 227.8L714.5 225.8L714.5 223.8L714.5 221.8L714.5 219.8L714.5 217.8L714.5 215.8L714.5 213.8L714.5 211.8L714.5 209.7L714.5 207.7L714.5 205.7L714.5 203.7L714.5 201.7L714.5 199.7L714.5 197.7L714.5 195.7L714.5 193.7L714.5 191.7L714.5 189.7L714.5 187.7L714.5 185.6L714.5 183.6L714.4 181.6L714.4 179.6L714.4 177.6L714.4 175.6L714.4 173.6L714.4 171.6L714.4 169.6L714.4 167.6L714.4 165.6L714.4 163.5L714.4 161.5L714.4 159.5L714.4 157.5L714.4 155.5L714.4 153.5L714.4 151.5L714.4 149.5L714.4 147.5L714.4 145.5L714.4 143.5L714.4 141.4L714.4 139.4L714.4 137.4L714.4 135.4L714.4 133.4L714.4 131.4L714.4 129.4L714.4 127.4L714.4 125.4L714.4 123.4L714.4 121.4L714.4 119.3L714.4 117.3L714.4 115.3L714.4 113.3L714.4 111.3L714.4 109.3L714.4 107.3L714.4 105.3L714.4 103.3L714.4 101.3L714.4 99.3L714.4 97.2L714.4 95.2L714.4 93.2L714.4 91.2L714.4 89.2L714.4 87.2L714.4 85.2L714.4 83.2L714.4 81.2L714.4 79.2L714.4 77.2L714.4 75.1L714.4 73.1L714.4 71.1L714.4 69.1L714.4 67.1L714.4 65.1L714.4 63.1L714.4 61.1L714.4 59.1L714.4 57.1L714.4 55.1L714.4 53.0L714.4 51.0L714.4 49.0L714.4 47.0L714.4 45.0L714.4 43.0"/>
<path stroke="#0000ff" stroke-width="1.9" stroke-dasharray="1.9 4.1" d="M447.2 108.7L447.4 110.7L447.6 112.7L447.9 114.7L448.2 116.7L448.4 118.7L448.7 120.7L449.0 122.7L449.4 124.6L449.7 126.6L450.0 128.6L450.4 130.6L450.8 132.5L451.1 134.5L451.5 136.5L451.9 138.5L452.2 140.4L452.6 142.4L453.0 144.4L453.3 146.4L453.7 148.3L454.0 150.3L454.3 152.3L454.7 154.3L455.0 156.2L455.3 158.2L455.6 160.2L455.9 162.2L456.2 164.2L456.5 166.2L456.8 168.2L457.1 170.1L457.4 172.1L457.6 174.1L457.9 176.1L458.2 178.1L458.5 180.1L458.8 182.1L459.0 184.1L459.3 186.1L459.6 188.0L459.9 190.0L460.2 192.0L460.5 194.0L460.8 196.0L461.1 198.0L461.4 200.0L461.7 202.0L462.0 204.0L462.3 205.9L462.6 207.9L462.9 209.9L463.2 211.9L463.5 213.9L463.8 215.9L464.1 217.9L464.4 219.8L464.8 221.8L465.1 223.8L465.4 225.8L465.7 227.8L466.1 229.8L466.4 231.7L466.7 233.7L467.0 235.7L467.4 237.7L467.7 239.7L468.0 241.7L468.4 243.6L468.7 245.6L469.1 247.6L469.4 249.6L469.8 251.6L470.1 253.5L470.5 255.5L470.8 257.5L471.2 259.5L471.5 261.5L471.9 263.4L472.2 265.4L472.6 267.4L473.0 269.4L473.3 271.3L473.7 273.3L474.1 275.3L474.5 277.3L474.9 279.3L475.2 281.2L475.6 283.2L476.0 285.2L476.4 287.1L476.8 289.1L477.2 291.1L477.6 293.1L478.0 295.0L478.4 297.0L478.8 299.0L479.2 300.9L479.6 302.9L480.0 304.9L480.4 306.8L480.9 308.8L481.3 310.8L481.7 312.7L482.1 314.7L482.6 316.7L483.0 318.6L483.4 320.6L483.9 322.6L484.3 324.5L484.7 326.5L485.2 328.5L485.6 330.4L486.1 332.4L486.5 334.3L487.0 336.3L487.5 338.3L487.9 340.2L488.4 342.2L488.9 344.1L489.4 346.1L489.9 348.0L490.3 350.0L490.8 351.9L491.3 353.9L491.8 355.8L492.4 357.8L492.9 359.7L493.4 361.6L493.9 363.6L494.5 365.5L495.0 367.5L495.6 369.4L496.1 371.3L496.7 373.2L497.3 375.2L497.9 377.1L498.5 379.0L499.1 380.9L499.7 382.8L500.3 384.7L500.9 386.7L501.5 388.6L502.2 390.5L502.8 392.4L503.5 394.3L504.1 396.2L504.8 398.1L505.5 400.0L506.1 401.9L506.8 403.8L507.5 405.7L508.1 407.5L508.8 409.4L509.5 411.3L510.2 413.2L510.8 415.1L511.5 417.0L512.2 418.9L512.9 420.8L513.5 422.7L514.2 424.6L514.8 426.5L515.5 428.4L516.1 430.3L516.8 432.2L517.4 434.2L518.1 436.1L518.7 438.0L519.3 439.9L520.0 441.8L520.6 443.7L521.2 445.6L521.8 447.6L522.5 449.5L523.1 451.4L523.7 453.3L524.4 455.2L525.0 457.1L525.7 459.0L526.3 460.9L527.0 462.8L527.7 464.7L528.3 466.6L529.0 468.5L529.7 470.4L530.4 472.2L531.1 474.1L531.8 476.0L532.6 477.9L533.3 479.7L534.1 481.6L534.9 483.4L535.7 485.2L536.5 487.1L537.3 488.9L538.1 490.7L539.0 492.5L539.8 494.3L540.7 496.1L541.6 497.9L542.5 499.7L543.4 501.5L544.3 503.3L545.2 505.1L546.2 506.8L547.1 508.6L548.1 510.3L549.1 512.1L550.1 513.8L551.1 515.6L552.1 517.3L553.1 519.1L554.1 520.8L555.2 522.5L556.3 524.3L557.3 526.0L558.4 527.7L559.5 529.4L560.6 531.1L561.8 532.8L562.9 534.4L564.1 536.1L565.2 537.7L566.4 539.4L567.6 541.0L568.8 542.6L570.1 544.3L571.3 545.9L572.5 547.4L573.8 549.0L575.1 550.6L576.4 552.1L577.7 553.6L579.1 555.1L580.4 556.6L581.8 558.1L583.1 559.5L584.5 561.0L586.0 562.4L587.4 563.8L588.8 565.2L590.3 566.5L591.8 567.9L593.3 569.2L594.8 570.5L596.4 571.8L597.9 573.0L599.5 574.2L601.1 575.4L602.7 576.6L604.3 577.8L606.0 578.9L607.7 580.0L609.4 581.1L611.1 582.1L612.8 583.1L614.6 584.1L616.3 585.1L618.1 586.0L619.9 586.9L621.7 587.8L623.5 588.7L625.4 589.5L627.2 590.3L629.1 591.1L631.0 591.8L632.9 592.6L634.8 593.3L636.7 593.9L638.6 594.6L640.5 595.2L642.4 595.8L644.3 596.3L646.3 596.9L648.2 597.4L650.2 597.9L652.1 598.3L654.1 598.8L656.0 599.2L658.0 599.6L660.0 599.9L662.0 600.3L663.9 600.6L665.9 600.9L667.9 601.2L669.9 601.5L671.9 601.7L673.9 601.9L675.9 602.1L677.9 602.3L679.9 602.5L681.9 602.7L683.9 602.8L685.9 602.9L687.9 603.1L689.9 603.2L691.9 603.3L693.9 603.4L696.0 603.4L698.0 603.5L700.0 603.6L702.0 603.6L704.0 603.6L706.0 603.7L708.1 603.7L710.1 603.7L712.1 603.7L714.1 603.7L716.1 603.7L718.2 603.7L720.2 603.7L722.2 603.7L724.2 603.7L726.2 603.7L728.3 603.7L730.3 603.7L732.3 603.7L734.3 603.7L736.3 603.7L738.3 603.7L740.3 603.7L742.3 603.7L744.3 603.8L746.3 603.8L748.3 603.8L750.3 603.8L752.3 603.9L754.3 603.9"/>
<path stroke="#000" stroke-width="1.65" d="M433.8 286.5L434.2 288.5L434.7 290.4L435.1 292.4L435.5 294.4L435.9 296.3L436.3 298.3L436.7 300.3L437.2 302.3L437.6 304.2L438.0 306.2L438.5 308.1L438.9 310.1L439.4 312.1L439.8 314.0L440.3 316.0L440.7 318.0L441.2 319.9L441.6 321.9L442.1 323.8L442.5 325.8L443.0 327.8L443.5 329.7L443.9 331.7L444.4 333.6L444.9 335.6L445.3 337.6L445.8 339.5L446.3 341.5L446.7 343.4L447.2 345.4L447.7 347.3L448.2 349.3L448.7 351.2L449.1 353.2L449.6 355.1L450.1 357.1L450.6 359.1L451.1 361.0L451.6 363.0L452.1 364.9L452.5 366.9L453.0 368.8L453.5 370.8L454.0 372.7L454.5 374.7L455.0 376.6L455.5 378.6L456.0 380.5L456.5 382.5L457.0 384.4L457.4 386.4L457.9 388.3L458.4 390.3L458.9 392.2L459.4 394.2L459.9 396.1L460.4 398.1L460.9 400.1L461.4 402.0L461.8 404.0L462.3 405.9L462.8 407.9L463.3 409.8L463.8 411.8L464.3 413.7L464.8 415.7L465.2 417.6L465.7 419.6L466.2 421.5L466.7 423.5L467.2 425.5L467.6 427.4L468.1 429.4L468.6 431.3L469.0 433.3L469.5 435.2L470.0 437.2L470.4 439.2L470.9 441.1L471.4 443.1L471.8 445.0L472.3 447.0L472.7 449.0L473.2 450.9L473.6 452.9L474.1 454.8L474.6 456.8L475.0 458.8L475.5 460.7L475.9 462.7L476.4 464.6L476.9 466.6L477.3 468.6L477.8 470.5L478.3 472.5L478.8 474.4L479.2 476.4L479.7 478.3L480.2 480.3L480.7 482.2L481.2 484.2L481.7 486.1L482.3 488.1L482.8 490.0L483.3 491.9L483.8 493.9L484.4 495.8L484.9 497.8L485.5 499.7L486.0 501.6L486.6 503.5L487.2 505.5L487.7 507.4L488.3 509.3L488.9 511.3L489.4 513.2L490.0 515.1L490.6 517.1L491.1 519.0L491.7 520.9L492.3 522.8L492.8 524.8L493.4 526.7L494.0 528.6L494.5 530.6L495.1 532.5L495.6 534.5L496.2 536.4L496.7 538.3L497.3 540.3L497.9 542.2L498.4 544.1L499.0 546.1L499.6 548.0L500.1 549.9L500.7 551.9L501.3 553.8L501.8 555.7L502.4 557.7L503.0 559.6L503.6 561.5L504.2 563.5L504.7 565.4L505.3 567.3L505.9 569.2L506.5 571.2L507.1 573.1L507.7 575.0L508.4 576.9L509.0 578.8L509.6 580.7L510.2 582.6L510.9 584.6L511.5 586.5L512.2 588.4L512.8 590.3L513.5 592.2L514.2 594.0L514.9 595.9L515.5 597.8L516.2 599.7L516.9 601.6L517.7 603.5L518.4 605.3L519.1 607.2L519.8 609.1L520.6 610.9L521.3 612.8L522.1 614.6L522.9 616.5L523.6 618.4L524.4 620.2L525.2 622.1L526.0 623.9L526.8 625.8L527.6 627.6L528.4 629.4L529.2 631.3L530.0 633.1L530.9 635.0L531.7 636.8L532.5 638.6L533.4 640.5L534.2 642.3L535.1 644.1L535.9 645.9L536.8 647.8L537.7 649.6L538.6 651.4L539.5 653.2L540.4 655.0L541.3 656.8L542.2 658.6L543.1 660.4L544.1 662.2L545.0 664.0L546.0 665.7L546.9 667.5L547.9 669.3L548.9 671.0L549.9 672.8L550.9 674.5L551.9 676.3L552.9 678.0L553.9 679.7L555.0 681.5L556.0 683.2L557.1 684.9L558.1 686.6L559.2 688.3L560.3 690.0L561.4 691.6L562.5 693.3L563.7 695.0L564.8 696.6L566.0 698.2L567.2 699.8L568.4 701.4L569.6 703.0L570.9 704.6L572.2 706.1L573.5 707.6L574.9 709.1L576.3 710.6L577.7 712.0M659.2 711.9L660.2 710.1L661.1 708.3L662.0 706.5L662.9 704.7L663.8 702.9L664.6 701.0L665.4 699.2L666.1 697.3L666.9 695.5L667.6 693.6L668.3 691.7L668.9 689.8L669.6 688.0L670.2 686.1L670.8 684.2L671.4 682.2L672.0 680.3L672.5 678.4L673.0 676.5L673.5 674.5L674.0 672.6L674.5 670.7L675.0 668.7L675.4 666.8L675.9 664.8L676.3 662.8L676.7 660.9L677.1 658.9L677.5 656.9L677.9 655.0L678.3 653.0L678.6 651.0L679.0 649.0L679.4 647.1L679.7 645.1L680.1 643.1L680.4 641.1L680.7 639.1L681.1 637.1L681.4 635.2L681.8 633.2L682.1 631.2L682.4 629.2L682.8 627.2L683.1 625.2L683.5 623.3L683.8 621.3L684.2 619.3L684.5 617.3L684.8 615.4L685.2 613.4L685.5 611.4L685.9 609.4L686.2 607.5L686.6 605.5L686.9 603.5L687.2 601.5L687.6 599.6L687.9 597.6L688.2 595.6L688.6 593.6L688.9 591.7L689.2 589.7L689.5 587.7L689.9 585.7L690.2 583.7L690.5 581.8L690.8 579.8L691.1 577.8L691.4 575.8L691.7 573.8L692.0 571.9L692.2 569.9L692.5 567.9L692.8 565.9L693.1 563.9L693.3 561.9L693.6 559.9L693.8 557.9L694.1 556.0L694.3 554.0L694.6 552.0L694.8 550.0L695.1 548.0L695.3 546.0L695.5 544.0L695.8 542.0L696.0 540.0L696.2 538.0L696.4 536.0L696.7 534.0L696.9 532.0L697.1 530.0L697.3 528.0L697.5 526.0L697.7 524.0L697.9 522.0L698.1 520.1L698.4 518.1L698.6 516.1L698.8 514.1L699.0 512.1L699.2 510.1L699.4 508.1L699.6 506.1L699.8 504.1L699.9 502.1L700.1 500.1L700.3 498.1L700.5 496.1L700.7 494.1L700.9 492.1L701.1 490.1L701.3 488.1L701.4 486.1L701.6 484.1L701.8 482.1L702.0 480.1L702.1 478.1L702.3 476.1L702.5 474.1L702.7 472.1L702.8 470.1L703.0 468.1L703.2 466.1L703.3 464.1L703.5 462.1L703.7 460.1L703.8 458.1L704.0 456.1L704.1 454.1L704.3 452.1L704.4 450.1L704.6 448.1L704.8 446.1L704.9 444.1L705.1 442.1L705.2 440.1L705.3 438.1L705.5 436.1L705.6 434.1L705.8 432.1L705.9 430.1L706.1 428.1L706.2 426.1L706.3 424.1L706.5 422.1L706.6 420.1L706.7 418.1L706.9 416.1L707.0 414.1L707.1 412.1L707.3 410.1L707.4 408.1L707.5 406.1L707.6 404.1L707.8 402.1L707.9 400.1L708.0 398.0L708.1 396.0L708.2 394.0L708.3 392.0L708.5 390.0L708.6 388.0L708.7 386.0L708.8 384.0L708.9 382.0L709.0 380.0L709.1 378.0L709.2 376.0L709.3 374.0L709.4 372.0L709.5 370.0L709.6 368.0L709.7 366.0L709.8 364.0L709.9 362.0L710.0 360.0L710.1 358.0L710.2 356.0L710.3 354.0L710.4 352.0L710.5 350.0L710.6 348.0L710.7 346.0L710.8 344.0L710.9 341.9L710.9 339.9L711.0 337.9L711.1 335.9L711.2 333.9L711.3 331.9L711.3 329.9L711.4 327.9L711.5 325.9L711.6 323.9L711.7 321.9L711.7 319.9L711.8 317.9L711.9 315.9L711.9 313.9L712.0 311.9L712.1 309.9L712.1 307.9L712.2 305.9L712.3 303.9L712.3 301.9L712.4 299.8L712.5 297.8L712.5 295.8L712.6 293.8L712.6 291.8L712.7 289.8L712.8 287.8L712.8 285.8L712.9 283.8L712.9 281.8L713.0 279.8L713.0 277.8L713.1 275.8L713.1 273.8L713.2 271.8L713.2 269.8L713.3 267.8L713.3 265.7L713.4 263.7L713.4 261.7L713.5 259.7L713.5 257.7L713.5 255.7L713.6 253.7L713.6 251.7L713.7 249.7L713.7 247.7L713.7 245.7L713.8 243.7L713.8 241.7L713.8 239.7L713.9 237.7L713.9 235.7L713.9 233.6L714.0 231.6L714.0 229.6L714.0 227.6L714.1 225.6L714.1 223.6L714.1 221.6L714.1 219.6L714.2 217.6L714.2 215.6L714.2 213.6L714.2 211.6L714.3 209.6L714.3 207.6L714.3 205.6L714.3 203.5L714.3 201.5L714.3 199.5L714.4 197.5L714.4 195.5L714.4 193.5L714.4 191.5L714.4 189.5L714.4 187.5L714.4 185.5L714.5 183.5L714.5 181.5L714.5 179.5L714.5 177.5L714.5 175.4L714.5 173.4L714.5 171.4L714.5 169.4L714.5 167.4L714.5 165.4L714.5 163.4L714.5 161.4L714.5 159.4L714.5 157.4L714.5 155.4L714.5 153.4L714.5 151.4L714.5 149.4L714.5 147.3L714.5 145.3L714.5 143.3L714.5 141.3L714.5 139.3L714.5 137.3L714.5 135.3L714.5 133.3L714.5 131.3L714.5 129.3L714.5 127.3L714.5 125.3L714.5 123.3L714.5 121.3L714.5 119.2L714.4 117.2L714.4 115.2L714.4 113.2L714.4 111.2L714.4 109.2L714.4 107.2L714.4 105.2L714.4 103.2L714.3 101.2L714.3 99.2L714.3 97.2L714.3 95.2L714.3 93.2L714.3 91.2L714.2 89.1L714.2 87.1L714.2 85.1L714.2 83.1L714.2 81.1L714.1 79.1L714.1 77.1L714.1 75.1L714.1 73.1L714.1 71.1L714.0 69.1L714.0 67.1L714.0 65.1L714.0 63.1L713.9 61.1L713.9 59.0L713.9 57.0L713.9 55.0L713.8 53.0L713.8 51.0L713.8 49.0L713.8 47.0L713.7 45.0L713.7 43.0"/>
<path stroke="#0000ff" stroke-width="1.9" stroke-dasharray="1.9 4.1" d="M446.9 43.0L447.1 45.0L447.2 47.0L447.4 49.0L447.6 51.0L447.8 53.0L448.0 55.0L448.2 57.0L448.4 59.0L448.6 61.0L448.8 63.0L449.0 65.0L449.2 67.0L449.4 69.0L449.6 71.0L449.8 73.0L450.1 75.0L450.3 77.0L450.5 78.9L450.7 80.9L451.0 82.9L451.2 84.9L451.4 86.9L451.7 88.9L451.9 90.9L452.1 92.9L452.4 94.9L452.6 96.9L452.9 98.9L453.1 100.9L453.4 102.9L453.6 104.8L453.9 106.8L454.1 108.8L454.4 110.8L454.7 112.8L454.9 114.8L455.2 116.8L455.5 118.8L455.8 120.8L456.0 122.8L456.3 124.7L456.6 126.7L456.9 128.7L457.2 130.7L457.5 132.7L457.7 134.7L458.0 136.7L458.3 138.6L458.6 140.6L458.9 142.6L459.2 144.6L459.6 146.6L459.9 148.6L460.2 150.5L460.5 152.5L460.8 154.5L461.1 156.5L461.5 158.5L461.8 160.5L462.1 162.4L462.4 164.4L462.8 166.4L463.1 168.4L463.4 170.4L463.8 172.3L464.1 174.3L464.5 176.3L464.8 178.3L465.2 180.2L465.5 182.2L465.9 184.2L466.2 186.2L466.6 188.1L467.0 190.1L467.3 192.1L467.7 194.1L468.1 196.0L468.4 198.0L468.8 200.0L469.2 202.0L469.6 203.9L470.0 205.9L470.4 207.9L470.7 209.8L471.1 211.8L471.5 213.8L471.9 215.7L472.3 217.7L472.7 219.7L473.1 221.6L473.5 223.6L474.0 225.6L474.4 227.5L474.8 229.5L475.2 231.5L475.6 233.4L476.1 235.4L476.5 237.4L476.9 239.3L477.3 241.3L477.8 243.2L478.2 245.2L478.6 247.2L479.1 249.1L479.5 251.1L480.0 253.0L480.4 255.0L480.9 256.9L481.3 258.9L481.8 260.9L482.3 262.8L482.7 264.8L483.2 266.7L483.7 268.7L484.1 270.6L484.6 272.6L485.1 274.5L485.6 276.5L486.0 278.4L486.5 280.4L487.0 282.3L487.5 284.3L488.0 286.2L488.5 288.1L489.0 290.1L489.5 292.0L490.0 294.0L490.5 295.9L491.0 297.9L491.5 299.8L492.0 301.7L492.6 303.7L493.1 305.6L493.6 307.5L494.1 309.5L494.7 311.4L495.2 313.3L495.8 315.3L496.3 317.2L496.9 319.1L497.4 321.1L498.0 323.0L498.5 324.9L499.1 326.8L499.7 328.8L500.3 330.7L500.8 332.6L501.4 334.5L502.0 336.4L502.6 338.3L503.2 340.2L503.8 342.2L504.4 344.1L505.1 346.0L505.7 347.9L506.3 349.8L506.9 351.7L507.6 353.6L508.2 355.5L508.9 357.4L509.5 359.3L510.2 361.2L510.8 363.1L511.5 364.9L512.2 366.8L512.9 368.7L513.5 370.6L514.2 372.5L514.9 374.3L515.6 376.2L516.4 378.1L517.1 380.0L517.8 381.8L518.5 383.7L519.3 385.6L520.0 387.4L520.8 389.3L521.5 391.1L522.3 393.0L523.1 394.8L523.8 396.7L524.6 398.5L525.4 400.4L526.2 402.2L527.0 404.1L527.8 405.9L528.7 407.7L529.5 409.6L530.3 411.4L531.2 413.2L532.0 415.0L532.9 416.8L533.8 418.7L534.6 420.5L535.5 422.3L536.4 424.1L537.3 425.9L538.2 427.7L539.1 429.5L540.1 431.3L541.0 433.1L541.9 434.8L542.9 436.6L543.8 438.4L544.8 440.2L545.8 441.9L546.8 443.7L547.8 445.5L548.8 447.2L549.8 449.0L550.9 450.7L551.9 452.4L553.0 454.1L554.1 455.8L555.1 457.5L556.2 459.2L557.3 460.9L558.5 462.6L559.6 464.3L560.8 465.9L561.9 467.6L563.1 469.2L564.3 470.8L565.5 472.4L566.8 474.0L568.0 475.6L569.3 477.2L570.6 478.7L571.9 480.2L573.2 481.8L574.5 483.3L575.9 484.8L577.2 486.3L578.6 487.7L580.0 489.2L581.5 490.6L582.9 492.0L584.3 493.4L585.8 494.8L587.3 496.1L588.8 497.4L590.3 498.7L591.9 500.0L593.4 501.3L595.0 502.5L596.6 503.8L598.2 504.9L599.8 506.1L601.4 507.3L603.1 508.4L604.8 509.5L606.5 510.5L608.2 511.6L609.9 512.6L611.6 513.6L613.4 514.5L615.1 515.4L616.9 516.4L618.7 517.2L620.5 518.1L622.3 518.9L624.1 519.7L626.0 520.5L627.8 521.2L629.7 521.9L631.6 522.6L633.5 523.3L635.4 523.9L637.3 524.5L639.2 525.1L641.1 525.7L643.0 526.2L645.0 526.7L646.9 527.2L648.9 527.6L650.8 528.1L652.8 528.5L654.8 528.9L656.7 529.2L658.7 529.6L660.7 529.9L662.7 530.2L664.7 530.4L666.7 530.7L668.7 530.9L670.7 531.1L672.7 531.3L674.7 531.5L676.7 531.6L678.7 531.7L680.7 531.8L682.7 531.9L684.8 532.0L686.8 532.1L688.8 532.2L690.8 532.2L692.9 532.2L694.9 532.3L696.9 532.3L698.9 532.3L701.0 532.3L703.0 532.3L705.0 532.2L707.0 532.2L709.1 532.2L711.1 532.2L713.1 532.1L715.1 532.1L717.1 532.1L719.2 532.0L721.2 532.0L723.2 532.0L725.2 531.9L727.2 531.9L729.2 531.9L731.2 531.9L733.2 531.8L735.2 531.8L737.2 531.8L739.2 531.8L741.2 531.9L743.2 531.9L745.1 531.9L747.1 532.0L749.1 532.0L751.1 532.1L753.0 532.2"/>
<path stroke="#000" stroke-width="1.65" d="M432.2 189.7L432.7 191.6L433.2 193.6L433.7 195.5L434.2 197.4L434.7 199.4L435.2 201.3L435.7 203.2L436.2 205.2L436.7 207.1L437.2 209.1L437.7 211.0L438.2 212.9L438.7 214.9L439.1 216.8L439.6 218.8L440.1 220.7L440.5 222.7L441.0 224.6L441.5 226.6L441.9 228.5L442.4 230.5L442.9 232.4L443.3 234.4L443.8 236.3L444.2 238.3L444.7 240.2L445.1 242.2L445.6 244.1L446.0 246.1L446.5 248.1L446.9 250.0L447.3 252.0L447.8 253.9L448.2 255.9L448.6 257.8L449.1 259.8L449.5 261.8L449.9 263.7L450.4 265.7L450.8 267.6L451.2 269.6L451.6 271.6L452.1 273.5L452.5 275.5L452.9 277.4L453.3 279.4L453.7 281.4L454.2 283.3L454.6 285.3L455.0 287.3L455.4 289.2L455.8 291.2L456.2 293.2L456.7 295.1L457.1 297.1L457.5 299.0L457.9 301.0L458.3 303.0L458.7 304.9L459.1 306.9L459.5 308.9L459.9 310.8L460.3 312.8L460.8 314.8L461.2 316.7L461.6 318.7L462.0 320.7L462.4 322.6L462.8 324.6L463.2 326.6L463.6 328.5L464.0 330.5L464.4 332.5L464.8 334.4L465.2 336.4L465.6 338.4L466.1 340.3L466.5 342.3L466.9 344.3L467.3 346.2L467.7 348.2L468.1 350.2L468.5 352.1L468.9 354.1L469.3 356.1L469.8 358.0L470.2 360.0L470.6 362.0L471.0 363.9L471.4 365.9L471.8 367.9L472.3 369.8L472.7 371.8L473.1 373.8L473.5 375.7L473.9 377.7L474.4 379.6L474.8 381.6L475.2 383.6L475.7 385.5L476.1 387.5L476.5 389.5L476.9 391.4L477.4 393.4L477.8 395.3L478.3 397.3L478.7 399.3L479.1 401.2L479.6 403.2L480.0 405.1L480.5 407.1L480.9 409.0L481.4 411.0L481.8 412.9L482.3 414.9L482.7 416.9L483.2 418.8L483.7 420.8L484.1 422.7L484.6 424.7L485.0 426.6L485.5 428.6L486.0 430.5L486.5 432.5L486.9 434.4L487.4 436.4L487.9 438.3L488.4 440.3L488.9 442.2L489.4 444.1L489.9 446.1L490.4 448.0L490.9 450.0L491.4 451.9L491.9 453.9L492.4 455.8L492.9 457.7L493.4 459.7L493.9 461.6L494.4 463.5L494.9 465.5L495.5 467.4L496.0 469.3L496.5 471.3L497.1 473.2L497.6 475.1L498.2 477.1L498.7 479.0L499.2 480.9L499.8 482.9L500.4 484.8L500.9 486.7L501.5 488.6L502.1 490.5L502.6 492.5L503.2 494.4L503.8 496.3L504.4 498.2L505.0 500.1L505.5 502.1L506.1 504.0L506.7 505.9L507.3 507.8L508.0 509.7L508.6 511.6L509.2 513.5L509.8 515.4L510.4 517.3L511.1 519.2L511.7 521.1L512.3 523.0L513.0 524.9L513.6 526.8L514.3 528.7L514.9 530.6L515.6 532.5L516.3 534.4L517.0 536.3L517.6 538.2L518.3 540.1L519.0 542.0L519.7 543.8L520.4 545.7L521.2 547.6L521.9 549.4L522.6 551.3L523.4 553.2L524.1 555.0L524.9 556.9L525.6 558.7L526.4 560.6L527.2 562.4L528.0 564.3L528.8 566.1L529.6 567.9L530.4 569.8L531.3 571.6L532.1 573.4L533.0 575.2L533.8 577.0L534.7 578.8L535.6 580.6L536.5 582.4L537.4 584.2L538.3 585.9L539.2 587.7L540.2 589.5L541.1 591.2L542.1 593.0L543.1 594.7L544.1 596.5L545.1 598.2L546.1 599.9L547.1 601.6L548.2 603.3L549.2 605.1L550.3 606.7L551.4 608.4L552.5 610.1L553.6 611.8L554.8 613.5L555.9 615.1L557.1 616.8L558.2 618.4L559.4 620.0L560.7 621.6L561.9 623.3L563.1 624.8L564.4 626.4L565.7 628.0L567.0 629.5L568.3 631.1L569.6 632.6L571.0 634.1L572.3 635.6L573.7 637.0L575.1 638.5L576.6 639.9L578.0 641.3L579.5 642.6L581.0 643.9L582.5 645.3L584.0 646.5L585.6 647.8L587.2 649.0L588.8 650.2L590.4 651.4L592.1 652.5L593.8 653.6L595.5 654.7L597.2 655.7L598.9 656.7L600.7 657.6L602.5 658.5L604.3 659.4L606.2 660.2L608.0 661.0L609.9 661.7L611.8 662.3L613.8 662.8L615.7 663.3L617.6 663.6L619.6 663.9L621.5 664.0L623.5 664.0L625.4 663.9L627.4 663.7L629.3 663.3L631.2 662.8L633.1 662.2L635.0 661.5L636.8 660.6L638.6 659.7L640.3 658.7L642.0 657.6L643.7 656.4L645.3 655.1L646.8 653.8L648.3 652.4L649.8 650.9L651.2 649.4L652.5 647.8L653.8 646.2L655.0 644.6L656.1 642.9L657.2 641.2L658.2 639.5L659.2 637.8L660.1 636.0L661.0 634.2L661.8 632.4L662.6 630.6L663.4 628.7L664.1 626.9L664.8 625.0L665.5 623.1L666.1 621.2L666.7 619.3L667.3 617.4L667.9 615.5L668.5 613.6L669.0 611.6L669.6 609.7L670.1 607.8L670.7 605.8L671.2 603.9L671.7 602.0L672.2 600.0L672.7 598.1L673.2 596.2L673.7 594.2L674.2 592.3L674.6 590.3L675.1 588.4L675.6 586.4L676.0 584.5L676.5 582.5L676.9 580.6L677.3 578.6L677.7 576.7L678.2 574.7L678.6 572.7L679.0 570.8L679.4 568.8L679.7 566.8L680.1 564.9L680.5 562.9L680.9 560.9L681.2 559.0L681.6 557.0L682.0 555.0L682.3 553.0L682.6 551.1L683.0 549.1L683.3 547.1L683.7 545.1L684.0 543.2L684.3 541.2L684.6 539.2L684.9 537.2L685.2 535.2L685.5 533.3L685.8 531.3L686.1 529.3L686.4 527.3L686.7 525.3L687.0 523.3L687.3 521.3L687.6 519.3L687.9 517.4L688.1 515.4L688.4 513.4L688.7 511.4L689.0 509.4L689.2 507.4L689.5 505.4L689.7 503.4L690.0 501.4L690.3 499.4L690.5 497.5L690.8 495.5L691.0 493.5L691.3 491.5L691.5 489.5L691.8 487.5L692.0 485.5L692.3 483.5L692.5 481.5L692.8 479.5L693.0 477.5L693.2 475.5L693.5 473.5L693.7 471.6L694.0 469.6L694.2 467.6L694.4 465.6L694.7 463.6L694.9 461.6L695.1 459.6L695.3 457.6L695.6 455.6L695.8 453.6L696.0 451.6L696.2 449.6L696.4 447.6L696.7 445.6L696.9 443.6L697.1 441.6L697.3 439.6L697.5 437.6L697.7 435.7L697.9 433.7L698.1 431.7L698.3 429.7L698.5 427.7L698.7 425.7L698.9 423.7L699.1 421.7L699.3 419.7L699.5 417.7L699.7 415.7L699.9 413.7L700.1 411.7L700.3 409.7L700.5 407.7L700.7 405.7L700.9 403.7L701.1 401.7L701.2 399.7L701.4 397.7L701.6 395.7L701.8 393.7L702.0 391.7L702.1 389.7L702.3 387.7L702.5 385.7L702.6 383.7L702.8 381.7L703.0 379.7L703.1 377.7L703.3 375.7L703.5 373.7L703.6 371.7L703.8 369.7L704.0 367.7L704.1 365.7L704.3 363.7L704.4 361.7L704.6 359.7L704.7 357.7L704.9 355.7L705.0 353.7L705.2 351.7L705.3 349.7L705.5 347.7L705.6 345.7L705.8 343.7L705.9 341.7L706.0 339.7L706.2 337.7L706.3 335.7L706.5 333.7L706.6 331.7L706.7 329.7L706.9 327.7L707.0 325.7L707.1 323.7L707.2 321.7L707.4 319.7L707.5 317.7L707.6 315.7L707.7 313.7L707.9 311.7L708.0 309.7L708.1 307.7L708.2 305.7L708.3 303.7L708.4 301.7L708.5 299.7L708.7 297.7L708.8 295.7L708.9 293.7L709.0 291.7L709.1 289.7L709.2 287.7L709.3 285.7L709.4 283.7L709.5 281.7L709.6 279.7L709.7 277.7L709.8 275.7L709.9 273.7L710.0 271.7L710.1 269.7L710.2 267.6L710.3 265.6L710.3 263.6L710.4 261.6L710.5 259.6L710.6 257.6L710.7 255.6L710.8 253.6L710.9 251.6L710.9 249.6L711.0 247.6L711.1 245.6L711.2 243.6L711.2 241.6L711.3 239.6L711.4 237.6L711.5 235.6L711.5 233.6L711.6 231.6L711.7 229.6L711.7 227.6L711.8 225.6L711.9 223.6L711.9 221.5L712.0 219.5L712.0 217.5L712.1 215.5L712.2 213.5L712.2 211.5L712.3 209.5L712.3 207.5L712.4 205.5L712.4 203.5L712.5 201.5L712.5 199.5L712.6 197.5L712.6 195.5L712.7 193.5L712.7 191.5L712.7 189.5L712.8 187.5L712.8 185.5L712.9 183.4L712.9 181.4L712.9 179.4L713.0 177.4L713.0 175.4L713.0 173.4L713.1 171.4L713.1 169.4L713.1 167.4L713.2 165.4L713.2 163.4L713.2 161.4L713.2 159.4L713.3 157.4L713.3 155.4L713.3 153.4L713.3 151.3L713.3 149.3L713.4 147.3L713.4 145.3L713.4 143.3L713.4 141.3L713.4 139.3L713.4 137.3L713.4 135.3L713.5 133.3L713.5 131.3L713.5 129.3L713.5 127.3L713.5 125.3L713.5 123.3L713.5 121.3L713.5 119.2L713.5 117.2L713.5 115.2L713.5 113.2L713.5 111.2L713.5 109.2L713.5 107.2L713.5 105.2L713.5 103.2L713.5 101.2L713.4 99.2L713.4 97.2L713.4 95.2L713.4 93.2L713.4 91.2L713.4 89.1L713.4 87.1L713.4 85.1L713.3 83.1L713.3 81.1L713.3 79.1L713.3 77.1L713.3 75.1L713.2 73.1L713.2 71.1L713.2 69.1L713.2 67.1L713.1 65.1L713.1 63.1L713.1 61.1L713.0 59.0L713.0 57.0L713.0 55.0L712.9 53.0L712.9 51.0L712.9 49.0L712.8 47.0L712.8 45.0L712.8 43.0"/>
<path stroke="#0000ff" stroke-width="1.9" stroke-dasharray="1.9 4.1" d="M449.6 43.0L449.8 45.0L450.1 46.9L450.4 48.9L450.6 50.9L450.9 52.9L451.2 54.9L451.5 56.9L451.7 58.9L452.0 60.9L452.3 62.9L452.6 64.9L452.9 66.9L453.2 68.9L453.5 70.9L453.8 72.9L454.1 74.9L454.4 76.9L454.7 78.8L455.0 80.8L455.3 82.8L455.6 84.8L455.9 86.8L456.2 88.8L456.5 90.8L456.9 92.8L457.2 94.7L457.5 96.7L457.8 98.7L458.2 100.7L458.5 102.7L458.8 104.7L459.2 106.6L459.5 108.6L459.9 110.6L460.2 112.6L460.6 114.6L460.9 116.5L461.3 118.5L461.6 120.5L462.0 122.5L462.3 124.4L462.7 126.4L463.1 128.4L463.5 130.4L463.8 132.3L464.2 134.3L464.6 136.3L465.0 138.3L465.3 140.2L465.7 142.2L466.1 144.2L466.5 146.1L466.9 148.1L467.3 150.1L467.7 152.0L468.1 154.0L468.5 156.0L468.9 157.9L469.3 159.9L469.8 161.9L470.2 163.8L470.6 165.8L471.0 167.7L471.5 169.7L471.9 171.7L472.3 173.6L472.8 175.6L473.2 177.5L473.6 179.5L474.1 181.5L474.5 183.4L475.0 185.4L475.4 187.3L475.9 189.3L476.3 191.2L476.8 193.2L477.3 195.1L477.7 197.1L478.2 199.0L478.7 201.0L479.2 202.9L479.7 204.9L480.1 206.8L480.6 208.8L481.1 210.7L481.6 212.7L482.1 214.6L482.6 216.6L483.1 218.5L483.6 220.5L484.1 222.4L484.7 224.3L485.2 226.3L485.7 228.2L486.2 230.2L486.7 232.1L487.3 234.0L487.8 236.0L488.3 237.9L488.9 239.9L489.4 241.8L490.0 243.7L490.5 245.7L491.1 247.6L491.6 249.5L492.2 251.5L492.8 253.4L493.3 255.3L493.9 257.2L494.5 259.2L495.1 261.1L495.6 263.0L496.2 265.0L496.8 266.9L497.4 268.8L498.0 270.7L498.6 272.7L499.2 274.6L499.8 276.5L500.4 278.4L501.0 280.3L501.7 282.3L502.3 284.2L502.9 286.1L503.5 288.0L504.2 289.9L504.8 291.8L505.4 293.8L506.1 295.7L506.7 297.6L507.4 299.5L508.1 301.4L508.7 303.3L509.4 305.2L510.1 307.1L510.8 309.0L511.5 310.9L512.1 312.8L512.9 314.7L513.6 316.5L514.3 318.4L515.0 320.3L515.7 322.2L516.5 324.1L517.2 325.9L518.0 327.8L518.7 329.7L519.5 331.5L520.3 333.4L521.0 335.2L521.8 337.1L522.6 338.9L523.4 340.8L524.3 342.6L525.1 344.4L525.9 346.3L526.8 348.1L527.6 349.9L528.5 351.7L529.4 353.5L530.2 355.3L531.1 357.1L532.0 358.9L532.9 360.7L533.9 362.5L534.8 364.2L535.7 366.0L536.7 367.8L537.7 369.5L538.7 371.3L539.6 373.0L540.6 374.8L541.7 376.5L542.7 378.2L543.7 379.9L544.8 381.6L545.8 383.3L546.9 385.0L548.0 386.7L549.1 388.4L550.2 390.1L551.3 391.8L552.5 393.4L553.6 395.1L554.8 396.7L556.0 398.4L557.2 400.0L558.4 401.6L559.6 403.2L560.8 404.8L562.1 406.4L563.3 408.0L564.6 409.6L565.9 411.1L567.2 412.6L568.5 414.2L569.9 415.7L571.2 417.2L572.6 418.7L574.0 420.1L575.4 421.6L576.8 423.0L578.2 424.4L579.7 425.8L581.1 427.2L582.6 428.6L584.1 429.9L585.6 431.2L587.1 432.5L588.7 433.8L590.2 435.1L591.8 436.3L593.4 437.5L595.0 438.7L596.6 439.9L598.2 441.0L599.9 442.1L601.5 443.2L603.2 444.2L604.9 445.2L606.6 446.2L608.4 447.2L610.1 448.2L611.9 449.1L613.7 449.9L615.5 450.8L617.3 451.6L619.1 452.4L621.0 453.2L622.8 453.9L624.7 454.6L626.5 455.3L628.4 456.0L630.3 456.6L632.2 457.3L634.2 457.8L636.1 458.4L638.0 458.9L640.0 459.5L641.9 460.0L643.9 460.4L645.9 460.9L647.8 461.3L649.8 461.7L651.8 462.1L653.8 462.4L655.8 462.8L657.8 463.1L659.8 463.4L661.8 463.6L663.8 463.9L665.8 464.1L667.8 464.3L669.8 464.5L671.8 464.7L673.9 464.9L675.9 465.0L677.9 465.2L679.9 465.3L681.9 465.4L684.0 465.5L686.0 465.6L688.0 465.6L690.0 465.7L692.1 465.7L694.1 465.8L696.1 465.8L698.1 465.8L700.2 465.8L702.2 465.8L704.2 465.8L706.2 465.8L708.3 465.8L710.3 465.8L712.3 465.8L714.3 465.8L716.3 465.8L718.4 465.8L720.4 465.7L722.4 465.7L724.4 465.7L726.4 465.7L728.4 465.7L730.4 465.7L732.4 465.7L734.4 465.7L736.4 465.7L738.4 465.7L740.4 465.7L742.4 465.7L744.3 465.7L746.3 465.8L748.3 465.8L750.3 465.9L752.2 466.0L754.2 466.0"/>
<path stroke="#000" stroke-width="1.65" d="M432.2 84.9L432.6 86.9L433.0 88.8L433.4 90.8L433.8 92.7L434.3 94.7L434.7 96.6L435.1 98.6L435.5 100.6L435.9 102.5L436.3 104.5L436.7 106.4L437.0 108.4L437.4 110.4L437.8 112.3L438.2 114.3L438.6 116.3L439.0 118.2L439.4 120.2L439.7 122.1L440.1 124.1L440.5 126.1L440.9 128.0L441.2 130.0L441.6 132.0L442.0 134.0L442.3 135.9L442.7 137.9L443.1 139.9L443.4 141.8L443.8 143.8L444.1 145.8L444.5 147.8L444.8 149.7L445.2 151.7L445.5 153.7L445.9 155.6L446.2 157.6L446.6 159.6L446.9 161.6L447.3 163.5L447.6 165.5L448.0 167.5L448.3 169.5L448.7 171.5L449.0 173.4L449.4 175.4L449.7 177.4L450.0 179.4L450.4 181.3L450.7 183.3L451.1 185.3L451.4 187.3L451.7 189.3L452.1 191.2L452.4 193.2L452.7 195.2L453.1 197.2L453.4 199.2L453.7 201.1L454.1 203.1L454.4 205.1L454.8 207.1L455.1 209.1L455.4 211.0L455.8 213.0L456.1 215.0L456.4 217.0L456.8 219.0L457.1 220.9L457.4 222.9L457.8 224.9L458.1 226.9L458.5 228.9L458.8 230.8L459.1 232.8L459.5 234.8L459.8 236.8L460.2 238.8L460.5 240.7L460.8 242.7L461.2 244.7L461.5 246.7L461.9 248.7L462.2 250.6L462.6 252.6L462.9 254.6L463.3 256.6L463.6 258.5L464.0 260.5L464.3 262.5L464.7 264.5L465.0 266.4L465.4 268.4L465.7 270.4L466.1 272.4L466.5 274.4L466.8 276.3L467.2 278.3L467.5 280.3L467.9 282.2L468.3 284.2L468.6 286.2L469.0 288.2L469.4 290.1L469.8 292.1L470.1 294.1L470.5 296.0L470.9 298.0L471.3 300.0L471.7 302.0L472.1 303.9L472.4 305.9L472.8 307.9L473.2 309.8L473.6 311.8L474.0 313.8L474.4 315.7L474.8 317.7L475.2 319.6L475.6 321.6L476.1 323.6L476.5 325.5L476.9 327.5L477.3 329.5L477.7 331.4L478.1 333.4L478.6 335.3L479.0 337.3L479.4 339.2L479.9 341.2L480.3 343.2L480.7 345.1L481.2 347.1L481.6 349.0L482.1 351.0L482.5 352.9L483.0 354.9L483.5 356.8L483.9 358.8L484.4 360.7L484.9 362.7L485.3 364.6L485.8 366.5L486.3 368.5L486.8 370.4L487.3 372.4L487.8 374.3L488.3 376.2L488.8 378.2L489.3 380.1L489.8 382.1L490.3 384.0L490.8 385.9L491.3 387.9L491.8 389.8L492.4 391.7L492.9 393.6L493.4 395.6L494.0 397.5L494.5 399.4L495.1 401.4L495.6 403.3L496.2 405.2L496.7 407.1L497.3 409.0L497.9 411.0L498.4 412.9L499.0 414.8L499.6 416.7L500.2 418.6L500.8 420.5L501.4 422.4L502.0 424.4L502.6 426.3L503.2 428.2L503.8 430.1L504.5 432.0L505.1 433.9L505.7 435.8L506.4 437.7L507.0 439.6L507.6 441.5L508.3 443.4L509.0 445.3L509.6 447.2L510.3 449.0L511.0 450.9L511.7 452.8L512.3 454.7L513.0 456.6L513.7 458.5L514.4 460.4L515.1 462.2L515.9 464.1L516.6 466.0L517.3 467.8L518.1 469.7L518.8 471.6L519.6 473.4L520.3 475.3L521.1 477.2L521.8 479.0L522.6 480.9L523.4 482.7L524.2 484.6L525.0 486.4L525.8 488.2L526.6 490.1L527.4 491.9L528.3 493.7L529.1 495.6L529.9 497.4L530.8 499.2L531.6 501.0L532.5 502.8L533.4 504.6L534.3 506.4L535.2 508.2L536.1 510.0L537.0 511.8L537.9 513.6L538.8 515.4L539.7 517.2L540.7 518.9L541.6 520.7L542.6 522.5L543.6 524.2L544.5 526.0L545.5 527.7L546.5 529.5L547.5 531.2L548.5 533.0L549.6 534.7L550.6 536.4L551.6 538.1L552.7 539.8L553.8 541.5L554.9 543.2L556.0 544.9L557.1 546.5L558.2 548.2L559.4 549.8L560.6 551.4L561.8 553.0L563.0 554.6L564.2 556.2L565.5 557.7L566.7 559.3L568.0 560.8L569.4 562.3L570.7 563.7L572.1 565.2L573.5 566.6L574.9 568.0L576.4 569.3L577.8 570.7L579.4 572.0L580.9 573.3L582.5 574.5L584.1 575.7L585.7 576.9L587.4 578.1L589.1 579.2L590.8 580.3L592.6 581.3L594.4 582.3L596.2 583.2L598.0 584.1L599.9 584.9L601.7 585.7L603.6 586.4L605.5 587.0L607.4 587.6L609.4 588.1L611.3 588.5L613.3 588.8L615.2 589.1L617.2 589.3L619.2 589.3L621.2 589.3L623.2 589.2L625.2 589.0L627.1 588.7L629.1 588.3L631.0 587.8L633.0 587.2L634.8 586.6L636.7 585.8L638.5 584.9L640.2 584.0L641.9 582.9L643.5 581.8L645.1 580.6L646.6 579.3L648.1 578.0L649.5 576.6L650.8 575.1L652.1 573.6L653.4 572.0L654.6 570.4L655.7 568.7L656.9 567.0L657.9 565.3L658.9 563.6L659.9 561.8L660.9 560.0L661.8 558.2L662.6 556.4L663.5 554.6L664.2 552.7L665.0 550.9L665.7 549.0L666.4 547.1L667.1 545.2L667.7 543.3L668.3 541.4L668.9 539.5L669.5 537.6L670.1 535.7L670.6 533.7L671.1 531.8L671.6 529.8L672.0 527.9L672.5 525.9L673.0 523.9L673.4 522.0L673.8 520.0L674.2 518.0L674.6 516.1L675.0 514.1L675.4 512.1L675.8 510.1L676.2 508.2L676.6 506.2L677.0 504.2L677.4 502.2L677.7 500.3L678.1 498.3L678.5 496.3L678.8 494.3L679.2 492.4L679.5 490.4L679.9 488.4L680.2 486.4L680.5 484.5L680.9 482.5L681.2 480.5L681.5 478.5L681.8 476.6L682.2 474.6L682.5 472.6L682.8 470.6L683.1 468.7L683.4 466.7L683.7 464.7L684.0 462.7L684.3 460.7L684.6 458.8L684.9 456.8L685.2 454.8L685.5 452.8L685.8 450.8L686.1 448.9L686.4 446.9L686.7 444.9L687.0 442.9L687.3 440.9L687.5 438.9L687.8 437.0L688.1 435.0L688.4 433.0L688.7 431.0L688.9 429.0L689.2 427.0L689.5 425.1L689.7 423.1L690.0 421.1L690.3 419.1L690.5 417.1L690.8 415.1L691.0 413.1L691.3 411.1L691.6 409.2L691.8 407.2L692.1 405.2L692.3 403.2L692.6 401.2L692.8 399.2L693.1 397.2L693.3 395.2L693.5 393.2L693.8 391.3L694.0 389.3L694.2 387.3L694.5 385.3L694.7 383.3L694.9 381.3L695.2 379.3L695.4 377.3L695.6 375.3L695.8 373.3L696.1 371.3L696.3 369.4L696.5 367.4L696.7 365.4L696.9 363.4L697.1 361.4L697.4 359.4L697.6 357.4L697.8 355.4L698.0 353.4L698.2 351.4L698.4 349.4L698.6 347.4L698.8 345.4L699.0 343.4L699.2 341.4L699.4 339.4L699.6 337.4L699.8 335.4L699.9 333.5L700.1 331.5L700.3 329.5L700.5 327.5L700.7 325.5L700.9 323.5L701.0 321.5L701.2 319.5L701.4 317.5L701.6 315.5L701.7 313.5L701.9 311.5L702.1 309.5L702.2 307.5L702.4 305.5L702.6 303.5L702.7 301.5L702.9 299.5L703.0 297.5L703.2 295.5L703.4 293.5L703.5 291.5L703.7 289.5L703.8 287.5L704.0 285.5L704.1 283.5L704.3 281.5L704.4 279.5L704.5 277.5L704.7 275.5L704.8 273.5L704.9 271.5L705.1 269.5L705.2 267.5L705.3 265.5L705.5 263.5L705.6 261.5L705.7 259.5L705.9 257.5L706.0 255.5L706.1 253.5L706.2 251.5L706.3 249.5L706.5 247.4L706.6 245.4L706.7 243.4L706.8 241.4L706.9 239.4L707.0 237.4L707.1 235.4L707.2 233.4L707.3 231.4L707.4 229.4L707.5 227.4L707.6 225.4L707.7 223.4L707.8 221.4L707.9 219.4L708.0 217.4L708.1 215.4L708.2 213.4L708.3 211.4L708.4 209.4L708.5 207.4L708.5 205.4L708.6 203.4L708.7 201.4L708.8 199.4L708.9 197.4L708.9 195.3L709.0 193.3L709.1 191.3L709.2 189.3L709.2 187.3L709.3 185.3L709.4 183.3L709.4 181.3L709.5 179.3L709.6 177.3L709.6 175.3L709.7 173.3L709.7 171.3L709.8 169.3L709.8 167.3L709.9 165.3L709.9 163.3L710.0 161.3L710.0 159.3L710.1 157.3L710.1 155.2L710.2 153.2L710.2 151.2L710.3 149.2L710.3 147.2L710.3 145.2L710.4 143.2L710.4 141.2L710.4 139.2L710.5 137.2L710.5 135.2L710.5 133.2L710.6 131.2L710.6 129.2L710.6 127.2L710.6 125.2L710.7 123.2L710.7 121.2L710.7 119.2L710.7 117.2L710.7 115.2L710.7 113.1L710.8 111.1L710.8 109.1L710.8 107.1L710.8 105.1L710.8 103.1L710.8 101.1L710.8 99.1L710.8 97.1L710.8 95.1L710.8 93.1L710.8 91.1L710.8 89.1L710.8 87.1L710.8 85.1L710.8 83.1L710.8 81.1L710.8 79.1L710.7 77.1L710.7 75.1L710.7 73.1L710.7 71.1L710.7 69.1L710.7 67.1L710.6 65.1L710.6 63.1L710.6 61.1L710.6 59.1L710.5 57.0L710.5 55.0L710.5 53.0L710.5 51.0L710.4 49.0L710.4 47.0L710.4 45.0L710.3 43.0"/>
<path stroke="#0000ff" stroke-width="1.9" stroke-dasharray="1.9 4.1" d="M454.8 43.0L455.1 45.0L455.4 47.0L455.8 49.0L456.1 50.9L456.4 52.9L456.7 54.9L457.1 56.9L457.4 58.9L457.8 60.9L458.1 62.9L458.5 64.8L458.8 66.8L459.2 68.8L459.5 70.8L459.9 72.8L460.3 74.7L460.7 76.7L461.1 78.7L461.5 80.6L461.8 82.6L462.2 84.6L462.6 86.5L463.1 88.5L463.5 90.5L463.9 92.4L464.3 94.4L464.7 96.4L465.1 98.3L465.6 100.3L466.0 102.3L466.5 104.2L466.9 106.2L467.3 108.1L467.8 110.1L468.2 112.0L468.7 114.0L469.2 115.9L469.6 117.9L470.1 119.8L470.6 121.8L471.1 123.7L471.5 125.7L472.0 127.6L472.5 129.6L473.0 131.5L473.5 133.5L474.0 135.4L474.5 137.3L475.0 139.3L475.5 141.2L476.0 143.2L476.5 145.1L477.0 147.0L477.5 149.0L478.1 150.9L478.6 152.9L479.1 154.8L479.7 156.7L480.2 158.7L480.7 160.6L481.3 162.5L481.8 164.5L482.4 166.4L482.9 168.3L483.5 170.3L484.0 172.2L484.6 174.1L485.1 176.0L485.7 178.0L486.3 179.9L486.8 181.8L487.4 183.8L488.0 185.7L488.5 187.6L489.1 189.5L489.7 191.5L490.3 193.4L490.9 195.3L491.4 197.2L492.0 199.1L492.6 201.1L493.2 203.0L493.8 204.9L494.4 206.8L495.0 208.8L495.6 210.7L496.2 212.6L496.8 214.5L497.5 216.4L498.1 218.3L498.7 220.2L499.3 222.1L500.0 224.1L500.6 226.0L501.3 227.9L501.9 229.8L502.6 231.7L503.2 233.6L503.9 235.5L504.6 237.4L505.2 239.2L505.9 241.1L506.6 243.0L507.3 244.9L508.0 246.8L508.7 248.7L509.4 250.5L510.2 252.4L510.9 254.3L511.6 256.1L512.4 258.0L513.1 259.9L513.9 261.7L514.7 263.6L515.5 265.4L516.2 267.3L517.0 269.1L517.9 270.9L518.7 272.8L519.5 274.6L520.3 276.4L521.2 278.2L522.0 280.0L522.9 281.9L523.8 283.7L524.6 285.5L525.5 287.3L526.4 289.0L527.4 290.8L528.3 292.6L529.2 294.4L530.2 296.2L531.1 297.9L532.1 299.7L533.1 301.4L534.1 303.2L535.1 304.9L536.1 306.7L537.1 308.4L538.2 310.1L539.2 311.8L540.3 313.6L541.4 315.3L542.5 317.0L543.6 318.6L544.7 320.3L545.9 322.0L547.0 323.7L548.2 325.3L549.4 327.0L550.6 328.6L551.8 330.2L553.0 331.9L554.2 333.5L555.5 335.1L556.7 336.7L558.0 338.2L559.3 339.8L560.6 341.3L561.9 342.9L563.2 344.4L564.6 345.9L565.9 347.4L567.3 348.8L568.7 350.3L570.1 351.7L571.5 353.2L572.9 354.6L574.4 356.0L575.8 357.3L577.3 358.7L578.8 360.0L580.3 361.3L581.8 362.6L583.3 363.9L584.8 365.2L586.4 366.4L588.0 367.6L589.6 368.8L591.2 370.0L592.8 371.1L594.4 372.2L596.1 373.3L597.7 374.4L599.4 375.5L601.1 376.5L602.8 377.5L604.5 378.5L606.3 379.4L608.0 380.4L609.8 381.3L611.6 382.1L613.4 383.0L615.2 383.8L617.0 384.6L618.9 385.4L620.7 386.1L622.6 386.8L624.5 387.5L626.4 388.1L628.3 388.8L630.2 389.4L632.1 389.9L634.1 390.5L636.0 391.0L638.0 391.5L640.0 392.0L642.0 392.5L643.9 392.9L645.9 393.3L647.9 393.7L649.9 394.1L651.9 394.4L653.9 394.7L655.9 395.0L657.9 395.3L660.0 395.6L662.0 395.9L664.0 396.1L666.0 396.3L668.0 396.5L670.0 396.7L672.1 396.9L674.1 397.0L676.1 397.2L678.1 397.3L680.1 397.4L682.1 397.5L684.1 397.6L686.2 397.7L688.2 397.8L690.2 397.8L692.2 397.9L694.2 397.9L696.2 398.0L698.3 398.0L700.3 398.0L702.3 398.0L704.3 398.1L706.3 398.1L708.3 398.1L710.3 398.1L712.3 398.0L714.3 398.0L716.3 398.0L718.4 398.0L720.4 398.0L722.4 398.0L724.4 398.0L726.4 398.0L728.4 398.0L730.4 397.9L732.3 397.9L734.3 397.9L736.3 397.9L738.3 398.0L740.3 398.0L742.3 398.0L744.3 398.0L746.3 398.0L748.2 398.1L750.2 398.1L752.2 398.2L754.2 398.3"/>
<path stroke="#000" stroke-width="1.65" d="M441.9 43.4L442.2 45.4L442.4 47.4L442.7 49.4L442.9 51.4L443.2 53.4L443.4 55.4L443.7 57.4L443.9 59.4L444.2 61.3L444.4 63.3L444.7 65.3L445.0 67.3L445.2 69.3L445.5 71.3L445.8 73.3L446.1 75.3L446.3 77.3L446.6 79.3L446.9 81.2L447.2 83.2L447.5 85.2L447.8 87.2L448.1 89.2L448.3 91.1L448.6 93.1L448.9 95.1L449.2 97.1L449.5 99.1L449.8 101.0L450.1 103.0L450.5 105.0L450.8 107.0L451.1 108.9L451.4 110.9L451.7 112.9L452.0 114.9L452.3 116.8L452.7 118.8L453.0 120.8L453.3 122.8L453.6 124.7L454.0 126.7L454.3 128.7L454.6 130.6L455.0 132.6L455.3 134.6L455.6 136.6L456.0 138.5L456.3 140.5L456.6 142.5L457.0 144.4L457.3 146.4L457.7 148.4L458.0 150.3L458.4 152.3L458.7 154.3L459.1 156.3L459.4 158.2L459.8 160.2L460.1 162.2L460.5 164.1L460.8 166.1L461.2 168.1L461.5 170.0L461.9 172.0L462.2 174.0L462.6 175.9L463.0 177.9L463.3 179.9L463.7 181.9L464.1 183.8L464.4 185.8L464.8 187.8L465.2 189.7L465.5 191.7L465.9 193.7L466.3 195.7L466.6 197.6L467.0 199.6L467.4 201.6L467.8 203.5L468.1 205.5L468.5 207.5L468.9 209.5L469.3 211.4L469.7 213.4L470.0 215.4L470.4 217.4L470.8 219.3L471.2 221.3L471.6 223.3L472.0 225.3L472.4 227.2L472.8 229.2L473.2 231.2L473.6 233.1L474.0 235.1L474.4 237.1L474.8 239.1L475.2 241.0L475.6 243.0L476.1 245.0L476.5 246.9L476.9 248.9L477.3 250.9L477.8 252.8L478.2 254.8L478.6 256.8L479.1 258.7L479.5 260.7L480.0 262.6L480.4 264.6L480.9 266.6L481.3 268.5L481.8 270.5L482.2 272.4L482.7 274.4L483.2 276.3L483.7 278.3L484.1 280.3L484.6 282.2L485.1 284.1L485.6 286.1L486.1 288.0L486.6 290.0L487.1 291.9L487.6 293.9L488.2 295.8L488.7 297.7L489.2 299.7L489.7 301.6L490.3 303.6L490.8 305.5L491.4 307.4L491.9 309.3L492.5 311.3L493.0 313.2L493.6 315.1L494.2 317.0L494.8 319.0L495.3 320.9L495.9 322.8L496.5 324.7L497.1 326.6L497.7 328.5L498.4 330.4L499.0 332.3L499.6 334.2L500.2 336.1L500.9 338.0L501.5 339.9L502.2 341.8L502.8 343.7L503.5 345.6L504.2 347.5L504.9 349.3L505.5 351.2L506.2 353.1L506.9 355.0L507.6 356.8L508.4 358.7L509.1 360.6L509.8 362.4L510.5 364.3L511.3 366.2L512.0 368.0L512.8 369.9L513.6 371.7L514.3 373.6L515.1 375.4L515.9 377.2L516.7 379.1L517.5 380.9L518.3 382.7L519.2 384.6L520.0 386.4L520.8 388.2L521.7 390.0L522.5 391.8L523.4 393.6L524.3 395.4L525.2 397.2L526.1 399.0L527.0 400.8L527.9 402.6L528.8 404.4L529.7 406.2L530.7 407.9L531.6 409.7L532.6 411.4L533.6 413.2L534.6 414.9L535.6 416.7L536.6 418.4L537.6 420.1L538.7 421.8L539.7 423.5L540.8 425.2L541.9 426.9L543.0 428.5L544.1 430.2L545.3 431.8L546.4 433.5L547.6 435.1L548.8 436.7L550.0 438.3L551.2 439.9L552.4 441.5L553.7 443.0L554.9 444.6L556.2 446.1L557.5 447.6L558.9 449.2L560.2 450.6L561.6 452.1L562.9 453.6L564.3 455.0L565.7 456.5L567.2 457.9L568.6 459.3L570.1 460.7L571.5 462.1L573.0 463.5L574.5 464.8L576.0 466.2L577.5 467.5L579.0 468.8L580.6 470.1L582.1 471.4L583.7 472.6L585.3 473.9L586.8 475.1L588.4 476.4L590.0 477.6L591.6 478.8L593.2 480.0L594.8 481.1L596.4 482.3L598.0 483.4L599.7 484.5L601.4 485.5L603.1 486.4L605.0 487.1L606.8 487.8L608.8 488.4L610.7 488.9L612.7 489.3L614.7 489.6L616.7 489.8L618.7 490.0L620.7 490.1L622.8 490.2L624.8 490.2L626.8 490.0L628.9 489.9L630.9 489.6L632.9 489.3L634.9 488.9L636.8 488.4L638.7 487.8L640.6 487.1L642.4 486.3L644.2 485.5L645.9 484.6L647.6 483.5L649.2 482.4L650.7 481.2L652.2 479.9L653.6 478.5L655.0 477.1L656.3 475.6L657.5 474.0L658.7 472.4L659.9 470.7L661.0 469.0L662.1 467.3L663.2 465.5L664.2 463.8L665.2 462.0L666.1 460.2L667.0 458.3L667.9 456.5L668.8 454.7L669.6 452.9L670.4 451.0L671.2 449.2L672.0 447.3L672.7 445.4L673.4 443.6L674.0 441.7L674.6 439.8L675.2 437.9L675.7 436.0L676.2 434.1L676.7 432.1L677.2 430.2L677.6 428.2L678.0 426.3L678.4 424.3L678.8 422.4L679.1 420.4L679.5 418.4L679.8 416.5L680.1 414.5L680.4 412.5L680.6 410.5L680.9 408.5L681.2 406.5L681.4 404.5L681.7 402.6L682.0 400.6L682.2 398.6L682.5 396.6L682.7 394.6L683.0 392.6L683.3 390.6L683.5 388.6L683.8 386.6L684.0 384.6L684.3 382.6L684.6 380.6L684.8 378.7L685.1 376.7L685.4 374.7L685.6 372.7L685.9 370.7L686.2 368.7L686.5 366.7L686.7 364.7L687.0 362.7L687.3 360.8L687.5 358.8L687.8 356.8L688.1 354.8L688.3 352.8L688.6 350.8L688.9 348.8L689.1 346.8L689.4 344.8L689.7 342.9L689.9 340.9L690.2 338.9L690.5 336.9L690.7 334.9L691.0 332.9L691.2 330.9L691.5 328.9L691.8 326.9L692.0 325.0L692.3 323.0L692.5 321.0L692.8 319.0L693.0 317.0L693.3 315.0L693.6 313.0L693.8 311.0L694.1 309.1L694.3 307.1L694.5 305.1L694.8 303.1L695.0 301.1L695.3 299.1L695.5 297.1L695.7 295.1L696.0 293.1L696.2 291.1L696.4 289.2L696.7 287.2L696.9 285.2L697.1 283.2L697.3 281.2L697.5 279.2L697.8 277.2L698.0 275.2L698.2 273.2L698.4 271.2L698.6 269.2L698.8 267.2L699.0 265.3L699.2 263.3L699.4 261.3L699.6 259.3L699.8 257.3L700.0 255.3L700.1 253.3L700.3 251.3L700.5 249.3L700.7 247.3L700.8 245.3L701.0 243.3L701.2 241.3L701.3 239.3L701.5 237.3L701.6 235.3L701.8 233.3L701.9 231.3L702.1 229.3L702.2 227.3L702.3 225.3L702.5 223.3L702.6 221.3L702.7 219.3L702.8 217.3L703.0 215.3L703.1 213.3L703.2 211.3L703.3 209.3L703.4 207.3L703.5 205.3L703.6 203.3L703.7 201.3L703.8 199.3L703.9 197.3L704.0 195.3L704.1 193.3L704.2 191.3L704.3 189.3L704.4 187.3L704.5 185.3L704.5 183.3L704.6 181.3L704.7 179.3L704.8 177.3L704.8 175.3L704.9 173.3L705.0 171.3L705.0 169.3L705.1 167.3L705.1 165.3L705.2 163.3L705.2 161.3L705.3 159.3L705.3 157.3L705.4 155.3L705.4 153.3L705.5 151.2L705.5 149.2L705.6 147.2L705.6 145.2L705.6 143.2L705.7 141.2L705.7 139.2L705.7 137.2L705.7 135.2L705.8 133.2L705.8 131.2L705.8 129.2L705.8 127.2L705.9 125.2L705.9 123.2L705.9 121.2L705.9 119.2L705.9 117.2L705.9 115.1L705.9 113.1L705.9 111.1L705.9 109.1L705.9 107.1L705.9 105.1L705.9 103.1L705.9 101.1L705.9 99.1L705.9 97.1L705.9 95.1L705.9 93.1L705.9 91.1L705.9 89.1L705.9 87.1L705.9 85.1L705.9 83.1L705.9 81.1L705.9 79.1L705.8 77.1L705.8 75.0L705.8 73.0L705.8 71.0L705.8 69.0L705.8 67.0L705.7 65.0L705.7 63.0L705.7 61.0L705.7 59.0L705.6 57.0L705.6 55.0L705.6 53.0L705.6 51.0L705.5 49.0L705.5 47.0L705.5 45.0L705.4 43.0"/>
<path stroke="#0000ff" stroke-width="1.9" stroke-dasharray="1.9 4.1" d="M497.1 43.7L497.9 45.4L498.7 47.2L499.5 49.0L500.3 50.7L501.1 52.5L502.0 54.3L502.8 56.1L503.6 57.9L504.5 59.7L505.3 61.5L506.2 63.3L507.1 65.1L508.0 66.9L508.9 68.7L509.8 70.5L510.7 72.3L511.6 74.1L512.5 75.9L513.5 77.7L514.4 79.5L515.4 81.3L516.4 83.1L517.4 84.9L518.4 86.6L519.4 88.4L520.4 90.2L521.4 92.0L522.5 93.7L523.5 95.5L524.6 97.2L525.7 99.0L526.8 100.7L527.9 102.5L529.0 104.2L530.1 105.9L531.2 107.6L532.4 109.3L533.5 111.0L534.7 112.7L535.9 114.3L537.1 116.0L538.3 117.6L539.6 119.2L540.8 120.9L542.1 122.5L543.3 124.1L544.6 125.6L545.9 127.2L547.2 128.7L548.6 130.3L549.9 131.8L551.3 133.3L552.6 134.8L554.0 136.2L555.4 137.7L556.9 139.1L558.3 140.5L559.7 141.9L561.2 143.3L562.7 144.6L564.2 146.0L565.7 147.3L567.2 148.6L568.8 149.8L570.3 151.1L571.9 152.3L573.5 153.5L575.1 154.7L576.7 155.8L578.4 156.9L580.1 158.0L581.7 159.1L583.4 160.2L585.1 161.2L586.9 162.2L588.6 163.2L590.4 164.1L592.2 165.0L594.0 165.9L595.8 166.8L597.6 167.7L599.5 168.5L601.3 169.3L603.2 170.0L605.1 170.8L607.0 171.5L608.9 172.2L610.8 172.9L612.7 173.5L614.7 174.2L616.6 174.8L618.6 175.3L620.5 175.9L622.5 176.4L624.5 177.0L626.5 177.5L628.4 177.9L630.4 178.4L632.4 178.8L634.4 179.2L636.4 179.6L638.4 180.0L640.4 180.3L642.5 180.7L644.5 181.0L646.5 181.3L648.5 181.5L650.5 181.8L652.5 182.0L654.5 182.2L656.5 182.5L658.5 182.6L660.6 182.8L662.6 183.0L664.6 183.1L666.6 183.3L668.6 183.4L670.6 183.5L672.7 183.6L674.7 183.7L676.7 183.7L678.7 183.8L680.7 183.9L682.8 183.9L684.8 184.0L686.8 184.0L688.8 184.0L690.8 184.0L692.9 184.0L694.9 184.1L696.9 184.1L698.9 184.1L700.9 184.0L703.0 184.0L705.0 184.0L707.0 184.0L709.0 184.0L711.1 184.0L713.1 184.0L715.1 184.0L717.1 183.9L719.1 183.9L721.2 183.9L723.2 183.9L725.2 183.9L727.2 183.9L729.3 183.9L731.3 183.9L733.3 183.9L735.3 184.0L737.3 184.0L739.4 184.0L741.4 184.1L743.4 184.1L745.4 184.2L747.4 184.2L749.5 184.3L751.5 184.4"/>
<path stroke="#000" stroke-width="1.65" d="M486.5 43.6L487.3 45.4L488.2 47.2L489.0 49.0L489.8 50.8L490.7 52.6L491.5 54.4L492.3 56.2L493.2 58.0L494.0 59.8L494.8 61.6L495.6 63.5L496.5 65.3L497.3 67.1L498.1 68.9L499.0 70.8L499.8 72.6L500.7 74.4L501.5 76.3L502.3 78.1L503.2 80.0L504.1 81.8L504.9 83.6L505.8 85.5L506.7 87.3L507.5 89.1L508.4 91.0L509.3 92.8L510.2 94.6L511.1 96.4L512.0 98.3L512.9 100.1L513.9 101.9L514.8 103.7L515.7 105.5L516.7 107.3L517.6 109.1L518.6 110.9L519.6 112.6L520.6 114.4L521.6 116.2L522.6 117.9L523.6 119.7L524.6 121.4L525.7 123.2L526.7 124.9L527.8 126.6L528.9 128.3L530.0 130.0L531.1 131.7L532.2 133.4L533.3 135.0L534.5 136.7L535.6 138.3L536.8 140.0L538.0 141.6L539.2 143.2L540.4 144.8L541.7 146.3L542.9 147.9L544.2 149.5L545.5 151.0L546.8 152.5L548.1 154.0L549.5 155.5L550.8 157.0L552.2 158.5L553.6 159.9L555.0 161.3L556.5 162.7L557.9 164.1L559.4 165.5L560.9 166.8L562.4 168.2L563.9 169.5L565.5 170.8L567.0 172.1L568.6 173.3L570.2 174.5L571.8 175.7L573.4 176.9L575.1 178.1L576.7 179.2L578.4 180.3L580.1 181.4L581.8 182.5L583.5 183.5L585.3 184.5L587.0 185.5L588.8 186.4L590.6 187.4L592.4 188.2L594.2 189.1L596.1 190.0L597.9 190.8L599.8 191.5L601.6 192.3L603.5 193.0L605.4 193.7L607.4 194.3L609.3 194.9L611.2 195.5L613.2 196.1L615.1 196.6L617.1 197.1L619.1 197.6L621.1 198.0L623.1 198.4L625.1 198.7L627.1 199.0L629.1 199.3L631.2 199.6L633.2 199.8L635.2 200.0L637.3 200.1L639.3 200.2L641.3 200.3L643.3 200.3L645.4 200.2L647.4 200.1L649.4 200.0L651.4 199.8L653.4 199.5L655.3 199.2L657.3 198.7L659.2 198.3L661.1 197.7L663.0 197.1L664.8 196.4L666.7 195.7L668.5 194.8L670.3 193.9L672.0 193.0L673.7 192.0L675.4 190.9L677.0 189.7L678.6 188.5L680.1 187.3L681.6 186.0L683.0 184.6L684.4 183.2L685.7 181.7L687.0 180.1L688.2 178.5L689.4 176.9L690.5 175.2L691.5 173.5L692.4 171.7L693.3 169.9L694.1 168.0L694.9 166.1L695.5 164.1L696.1 162.1L696.6 160.1L697.0 158.0L697.4 155.9L697.6 153.8L697.7 151.6L698.0 152.0L697.8 43.0"/>
</g>
<g font-family="Liberation Sans, sans-serif" font-size="20" letter-spacing="0.9" fill="#000">
<text x="74.5" y="719.4" text-anchor="end">0</text>
<text x="74.5" y="597.9" text-anchor="end">2</text>
<text x="74.5" y="476.4" text-anchor="end">4</text>
<text x="74.5" y="354.8" text-anchor="end">6</text>
<text x="74.5" y="233.3" text-anchor="end">8</text>
<text x="74.5" y="111.8" text-anchor="end">10</text>
<text x="86.8" y="738" text-anchor="middle">0.1</text>
<text x="194.6" y="738" text-anchor="middle">1</text>
<text x="302.5" y="738" text-anchor="middle">10</text>
<text x="410.3" y="738" text-anchor="middle">100</text>
<text x="421.1" y="738" text-anchor="middle">0.1</text>
<text x="529.0" y="738" text-anchor="middle">1</text>
<text x="636.8" y="738" text-anchor="middle">10</text>
<text x="744.6" y="738" text-anchor="middle">100</text>
</g>
<g font-family="Liberation Serif, serif" font-size="24.8" letter-spacing="2.4" fill="#000" stroke="#000" stroke-width="0.3">
<text x="272.0" y="165.8">11.9</text>
<text x="272.0" y="469.8">11</text>
<text x="272.0" y="573.1">10</text>
<text x="270.8" y="640.3">9</text>
<text x="270.8" y="700.6">8</text>
<text x="606.2" y="165.8">11.9</text>
<text x="606.2" y="469.8">11</text>
<text x="606.2" y="573.1">10</text>
<text x="605.0" y="640.3">9</text>
<text x="605.0" y="700.6">8</text>
</g>
<g font-family="Liberation Serif, serif" fill="#000" stroke="#000" stroke-width="0.3">
<text transform="translate(158.04,783.90) scale(0.8924,1.0093)" font-size="36">R</text>
<text transform="translate(199.61,782.14) scale(0.9804,1.0530)" font-size="36">(</text>
<text transform="translate(214.41,783.90) scale(1.0937,0.9632)" font-size="36">h</text>
<text transform="translate(237.61,778.96) scale(1.1730,1.5455)" font-size="22">−</text>
<text transform="translate(254.51,773.60) scale(0.8769,0.9298)" font-size="22">1</text>
<text transform="translate(284.26,783.90) scale(0.7798,1.0093)" font-size="36">M</text>
<text transform="translate(311.62,783.65) scale(1.0799,0.9483)" font-size="36">p</text>
<text transform="translate(333.30,783.85) scale(1.1111,0.9606)" font-size="36">c</text>
<text transform="translate(354.65,782.14) scale(0.9817,1.0530)" font-size="36">)</text>
<text transform="translate(492.24,783.90) scale(0.8924,1.0093)" font-size="36">R</text>
<text transform="translate(533.81,782.14) scale(0.9804,1.0530)" font-size="36">(</text>
<text transform="translate(548.61,783.90) scale(1.0937,0.9632)" font-size="36">h</text>
<text transform="translate(571.81,778.96) scale(1.1730,1.5455)" font-size="22">−</text>
<text transform="translate(588.71,773.60) scale(0.8769,0.9298)" font-size="22">1</text>
<text transform="translate(618.46,783.90) scale(0.7798,1.0093)" font-size="36">M</text>
<text transform="translate(645.82,783.65) scale(1.0799,0.9483)" font-size="36">p</text>
<text transform="translate(667.50,783.85) scale(1.1111,0.9606)" font-size="36">c</text>
<text transform="translate(688.85,782.14) scale(0.9817,1.0530)" font-size="36">)</text>
<g transform="rotate(-90)">
<text transform="translate(-394.35,28.53) scale(0.9745,1.0211)" font-size="36" font-style="italic">δ</text>
<text transform="translate(-375.32,39.20) scale(0.7229,0.9987)" font-size="24">M</text>
</g>
</g>
</svg></body></html>
